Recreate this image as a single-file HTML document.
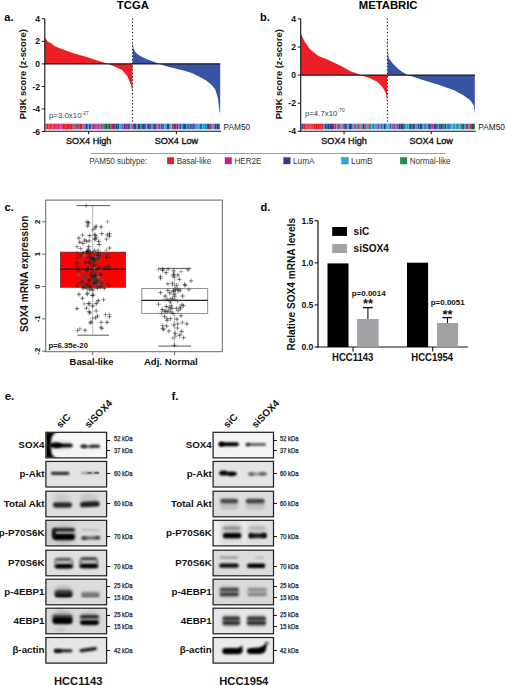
<!DOCTYPE html><html><head><meta charset="utf-8"><style>html,body{margin:0;padding:0;background:#fff;width:507px;height:685px;overflow:hidden}svg{display:block}</style></head><body><svg width="507" height="685" viewBox="0 0 507 685" font-family="Liberation Sans, sans-serif">
<rect width="507" height="685" fill="#fff"/>
<defs>
<filter id="sb" x="-5%" y="-20%" width="110%" height="140%"><feGaussianBlur stdDeviation="0.35 0"/></filter>
<filter id="b1" x="-30%" y="-100%" width="160%" height="300%"><feGaussianBlur stdDeviation="0.9"/></filter>
<filter id="b2" x="-30%" y="-100%" width="160%" height="300%"><feGaussianBlur stdDeviation="1.4"/></filter>
<filter id="b3" x="-50%" y="-200%" width="200%" height="500%"><feGaussianBlur stdDeviation="2.2"/></filter>
</defs>
<path d="M44.90,63.90 L44.90,37.10 L45.50,38.50 L47.60,41.50 L51.10,43.30 L54.70,46.30 L61.80,49.00 L70.60,52.20 L79.50,54.90 L88.40,57.50 L97.30,60.50 L107.00,63.40 L115.00,66.70 L122.10,70.00 L127.40,76.20 L131.00,85.00 L132.40,92.10 L132.40,63.90 Z" fill="#ed1f26"/>
<path d="M132.70,63.90 L132.70,42.30 L133.60,48.60 L135.40,52.20 L139.00,55.30 L144.50,58.20 L151.80,61.00 L159.00,63.70 L166.30,66.20 L175.40,68.60 L184.40,70.70 L191.70,73.10 L199.00,76.40 L206.20,80.40 L211.70,84.90 L215.30,89.40 L218.00,98.50 L219.50,112.10 L220.20,113.00 L220.20,63.90 Z" fill="#3753a3"/>
<line x1="44.80" y1="63.90" x2="220.30" y2="63.90" stroke="#1a1a1a" stroke-width="1.2" />
<clipPath id="sc11"><rect x="45.40" y="123.40" width="174.90" height="6.20"/></clipPath>
<g clip-path="url(#sc11)"><g filter="url(#sb)">
<rect x="43.40" y="123.40" width="2.20" height="6.20" fill="#e41e26" />
<rect x="45.40" y="123.40" width="1.15" height="6.20" fill="#e41e26" />
<rect x="46.50" y="123.40" width="2.05" height="6.20" fill="#e41e26" />
<rect x="48.50" y="123.40" width="1.15" height="6.20" fill="#e41e26" />
<rect x="49.60" y="123.40" width="2.05" height="6.20" fill="#e41e26" />
<rect x="51.60" y="123.40" width="0.95" height="6.20" fill="#e41e26" />
<rect x="52.50" y="123.40" width="1.15" height="6.20" fill="#d4168a" />
<rect x="53.60" y="123.40" width="2.05" height="6.20" fill="#e41e26" />
<rect x="55.60" y="123.40" width="1.15" height="6.20" fill="#e41e26" />
<rect x="56.70" y="123.40" width="0.75" height="6.20" fill="#e41e26" />
<rect x="57.40" y="123.40" width="1.65" height="6.20" fill="#d4168a" />
<rect x="59.00" y="123.40" width="1.35" height="6.20" fill="#27aae1" />
<rect x="60.30" y="123.40" width="1.15" height="6.20" fill="#d4168a" />
<rect x="61.40" y="123.40" width="1.35" height="6.20" fill="#d4168a" />
<rect x="62.70" y="123.40" width="1.35" height="6.20" fill="#e41e26" />
<rect x="64.00" y="123.40" width="1.35" height="6.20" fill="#e41e26" />
<rect x="65.30" y="123.40" width="0.75" height="6.20" fill="#e41e26" />
<rect x="66.00" y="123.40" width="0.95" height="6.20" fill="#e41e26" />
<rect x="66.90" y="123.40" width="2.05" height="6.20" fill="#e41e26" />
<rect x="68.90" y="123.40" width="1.15" height="6.20" fill="#e41e26" />
<rect x="70.00" y="123.40" width="0.95" height="6.20" fill="#e41e26" />
<rect x="70.90" y="123.40" width="1.65" height="6.20" fill="#e41e26" />
<rect x="72.50" y="123.40" width="0.75" height="6.20" fill="#d4168a" />
<rect x="73.20" y="123.40" width="1.15" height="6.20" fill="#d4168a" />
<rect x="74.30" y="123.40" width="1.15" height="6.20" fill="#0e9a4a" />
<rect x="75.40" y="123.40" width="2.05" height="6.20" fill="#e41e26" />
<rect x="77.40" y="123.40" width="1.05" height="6.20" fill="#2e3a92" />
<rect x="78.40" y="123.40" width="0.95" height="6.20" fill="#2e3a92" />
<rect x="79.30" y="123.40" width="0.75" height="6.20" fill="#e41e26" />
<rect x="80.00" y="123.40" width="2.05" height="6.20" fill="#e41e26" />
<rect x="82.00" y="123.40" width="0.75" height="6.20" fill="#27aae1" />
<rect x="82.70" y="123.40" width="1.15" height="6.20" fill="#e41e26" />
<rect x="83.80" y="123.40" width="0.75" height="6.20" fill="#27aae1" />
<rect x="84.50" y="123.40" width="0.75" height="6.20" fill="#d4168a" />
<rect x="85.20" y="123.40" width="0.75" height="6.20" fill="#2e3a92" />
<rect x="85.90" y="123.40" width="1.65" height="6.20" fill="#2e3a92" />
<rect x="87.50" y="123.40" width="0.75" height="6.20" fill="#2e3a92" />
<rect x="88.20" y="123.40" width="0.95" height="6.20" fill="#27aae1" />
<rect x="89.10" y="123.40" width="1.05" height="6.20" fill="#2e3a92" />
<rect x="90.10" y="123.40" width="1.05" height="6.20" fill="#2e3a92" />
<rect x="91.10" y="123.40" width="1.15" height="6.20" fill="#27aae1" />
<rect x="92.20" y="123.40" width="0.75" height="6.20" fill="#d4168a" />
<rect x="92.90" y="123.40" width="1.65" height="6.20" fill="#e41e26" />
<rect x="94.50" y="123.40" width="0.75" height="6.20" fill="#2e3a92" />
<rect x="95.20" y="123.40" width="1.15" height="6.20" fill="#d4168a" />
<rect x="96.30" y="123.40" width="1.35" height="6.20" fill="#d4168a" />
<rect x="97.60" y="123.40" width="1.35" height="6.20" fill="#d4168a" />
<rect x="98.90" y="123.40" width="1.65" height="6.20" fill="#27aae1" />
<rect x="100.50" y="123.40" width="1.15" height="6.20" fill="#2e3a92" />
<rect x="101.60" y="123.40" width="0.75" height="6.20" fill="#2e3a92" />
<rect x="102.30" y="123.40" width="0.95" height="6.20" fill="#e41e26" />
<rect x="103.20" y="123.40" width="2.05" height="6.20" fill="#0e9a4a" />
<rect x="105.20" y="123.40" width="2.05" height="6.20" fill="#2e3a92" />
<rect x="107.20" y="123.40" width="0.75" height="6.20" fill="#d4168a" />
<rect x="107.90" y="123.40" width="1.15" height="6.20" fill="#0e9a4a" />
<rect x="109.00" y="123.40" width="1.35" height="6.20" fill="#2e3a92" />
<rect x="110.30" y="123.40" width="0.75" height="6.20" fill="#e41e26" />
<rect x="111.00" y="123.40" width="0.95" height="6.20" fill="#d4168a" />
<rect x="111.90" y="123.40" width="1.05" height="6.20" fill="#e41e26" />
<rect x="112.90" y="123.40" width="1.35" height="6.20" fill="#2e3a92" />
<rect x="114.20" y="123.40" width="1.05" height="6.20" fill="#2e3a92" />
<rect x="115.20" y="123.40" width="0.75" height="6.20" fill="#e41e26" />
<rect x="115.90" y="123.40" width="1.35" height="6.20" fill="#2e3a92" />
<rect x="117.20" y="123.40" width="0.75" height="6.20" fill="#2e3a92" />
<rect x="117.90" y="123.40" width="1.05" height="6.20" fill="#2e3a92" />
<rect x="118.90" y="123.40" width="0.95" height="6.20" fill="#27aae1" />
<rect x="119.80" y="123.40" width="1.15" height="6.20" fill="#27aae1" />
<rect x="120.90" y="123.40" width="0.95" height="6.20" fill="#27aae1" />
<rect x="121.80" y="123.40" width="0.95" height="6.20" fill="#2e3a92" />
<rect x="122.70" y="123.40" width="1.05" height="6.20" fill="#27aae1" />
<rect x="123.70" y="123.40" width="2.05" height="6.20" fill="#2e3a92" />
<rect x="125.70" y="123.40" width="1.65" height="6.20" fill="#d4168a" />
<rect x="127.30" y="123.40" width="1.65" height="6.20" fill="#2e3a92" />
<rect x="128.90" y="123.40" width="1.35" height="6.20" fill="#d4168a" />
<rect x="130.20" y="123.40" width="1.15" height="6.20" fill="#27aae1" />
<rect x="131.30" y="123.40" width="1.35" height="6.20" fill="#e41e26" />
<rect x="132.60" y="123.40" width="0.75" height="6.20" fill="#e41e26" />
<rect x="133.30" y="123.40" width="0.75" height="6.20" fill="#2e3a92" />
<rect x="134.00" y="123.40" width="1.05" height="6.20" fill="#2e3a92" />
<rect x="135.00" y="123.40" width="1.65" height="6.20" fill="#2e3a92" />
<rect x="136.60" y="123.40" width="1.15" height="6.20" fill="#27aae1" />
<rect x="137.70" y="123.40" width="1.35" height="6.20" fill="#2e3a92" />
<rect x="139.00" y="123.40" width="1.35" height="6.20" fill="#2e3a92" />
<rect x="140.30" y="123.40" width="1.65" height="6.20" fill="#0e9a4a" />
<rect x="141.90" y="123.40" width="0.95" height="6.20" fill="#2e3a92" />
<rect x="142.80" y="123.40" width="1.35" height="6.20" fill="#2e3a92" />
<rect x="144.10" y="123.40" width="1.35" height="6.20" fill="#2e3a92" />
<rect x="145.40" y="123.40" width="1.05" height="6.20" fill="#2e3a92" />
<rect x="146.40" y="123.40" width="0.95" height="6.20" fill="#27aae1" />
<rect x="147.30" y="123.40" width="0.75" height="6.20" fill="#2e3a92" />
<rect x="148.00" y="123.40" width="1.15" height="6.20" fill="#2e3a92" />
<rect x="149.10" y="123.40" width="0.75" height="6.20" fill="#2e3a92" />
<rect x="149.80" y="123.40" width="1.05" height="6.20" fill="#2e3a92" />
<rect x="150.80" y="123.40" width="0.95" height="6.20" fill="#d4168a" />
<rect x="151.70" y="123.40" width="0.95" height="6.20" fill="#27aae1" />
<rect x="152.60" y="123.40" width="1.05" height="6.20" fill="#2e3a92" />
<rect x="153.60" y="123.40" width="1.65" height="6.20" fill="#2e3a92" />
<rect x="155.20" y="123.40" width="0.95" height="6.20" fill="#2e3a92" />
<rect x="156.10" y="123.40" width="0.75" height="6.20" fill="#2e3a92" />
<rect x="156.80" y="123.40" width="1.05" height="6.20" fill="#27aae1" />
<rect x="157.80" y="123.40" width="0.75" height="6.20" fill="#e41e26" />
<rect x="158.50" y="123.40" width="1.65" height="6.20" fill="#d4168a" />
<rect x="160.10" y="123.40" width="0.75" height="6.20" fill="#27aae1" />
<rect x="160.80" y="123.40" width="1.05" height="6.20" fill="#2e3a92" />
<rect x="161.80" y="123.40" width="0.75" height="6.20" fill="#d4168a" />
<rect x="162.50" y="123.40" width="1.35" height="6.20" fill="#2e3a92" />
<rect x="163.80" y="123.40" width="0.75" height="6.20" fill="#27aae1" />
<rect x="164.50" y="123.40" width="1.65" height="6.20" fill="#27aae1" />
<rect x="166.10" y="123.40" width="0.95" height="6.20" fill="#27aae1" />
<rect x="167.00" y="123.40" width="1.05" height="6.20" fill="#2e3a92" />
<rect x="168.00" y="123.40" width="1.65" height="6.20" fill="#2e3a92" />
<rect x="169.60" y="123.40" width="0.75" height="6.20" fill="#27aae1" />
<rect x="170.30" y="123.40" width="1.15" height="6.20" fill="#27aae1" />
<rect x="171.40" y="123.40" width="0.75" height="6.20" fill="#27aae1" />
<rect x="172.10" y="123.40" width="1.35" height="6.20" fill="#e41e26" />
<rect x="173.40" y="123.40" width="1.65" height="6.20" fill="#2e3a92" />
<rect x="175.00" y="123.40" width="1.35" height="6.20" fill="#e41e26" />
<rect x="176.30" y="123.40" width="0.75" height="6.20" fill="#d4168a" />
<rect x="177.00" y="123.40" width="1.65" height="6.20" fill="#2e3a92" />
<rect x="178.60" y="123.40" width="1.05" height="6.20" fill="#27aae1" />
<rect x="179.60" y="123.40" width="1.65" height="6.20" fill="#2e3a92" />
<rect x="181.20" y="123.40" width="1.65" height="6.20" fill="#27aae1" />
<rect x="182.80" y="123.40" width="1.15" height="6.20" fill="#2e3a92" />
<rect x="183.90" y="123.40" width="2.05" height="6.20" fill="#2e3a92" />
<rect x="185.90" y="123.40" width="1.35" height="6.20" fill="#27aae1" />
<rect x="187.20" y="123.40" width="0.75" height="6.20" fill="#2e3a92" />
<rect x="187.90" y="123.40" width="0.75" height="6.20" fill="#2e3a92" />
<rect x="188.60" y="123.40" width="0.95" height="6.20" fill="#0e9a4a" />
<rect x="189.50" y="123.40" width="0.75" height="6.20" fill="#2e3a92" />
<rect x="190.20" y="123.40" width="1.35" height="6.20" fill="#2e3a92" />
<rect x="191.50" y="123.40" width="1.15" height="6.20" fill="#2e3a92" />
<rect x="192.60" y="123.40" width="0.75" height="6.20" fill="#2e3a92" />
<rect x="193.30" y="123.40" width="0.95" height="6.20" fill="#2e3a92" />
<rect x="194.20" y="123.40" width="0.95" height="6.20" fill="#2e3a92" />
<rect x="195.10" y="123.40" width="2.05" height="6.20" fill="#27aae1" />
<rect x="197.10" y="123.40" width="1.65" height="6.20" fill="#27aae1" />
<rect x="198.70" y="123.40" width="1.15" height="6.20" fill="#27aae1" />
<rect x="199.80" y="123.40" width="1.05" height="6.20" fill="#2e3a92" />
<rect x="200.80" y="123.40" width="1.05" height="6.20" fill="#2e3a92" />
<rect x="201.80" y="123.40" width="1.15" height="6.20" fill="#27aae1" />
<rect x="202.90" y="123.40" width="2.05" height="6.20" fill="#27aae1" />
<rect x="204.90" y="123.40" width="0.95" height="6.20" fill="#2e3a92" />
<rect x="205.80" y="123.40" width="1.35" height="6.20" fill="#27aae1" />
<rect x="207.10" y="123.40" width="0.95" height="6.20" fill="#2e3a92" />
<rect x="208.00" y="123.40" width="1.15" height="6.20" fill="#2e3a92" />
<rect x="209.10" y="123.40" width="2.05" height="6.20" fill="#e41e26" />
<rect x="211.10" y="123.40" width="0.75" height="6.20" fill="#0e9a4a" />
<rect x="211.80" y="123.40" width="1.05" height="6.20" fill="#27aae1" />
<rect x="212.80" y="123.40" width="0.75" height="6.20" fill="#2e3a92" />
<rect x="213.50" y="123.40" width="1.05" height="6.20" fill="#27aae1" />
<rect x="214.50" y="123.40" width="2.05" height="6.20" fill="#2e3a92" />
<rect x="216.50" y="123.40" width="1.65" height="6.20" fill="#2e3a92" />
<rect x="218.10" y="123.40" width="1.65" height="6.20" fill="#2e3a92" />
<rect x="219.70" y="123.40" width="0.65" height="6.20" fill="#27aae1" />
<rect x="220.20" y="123.40" width="2.00" height="6.20" fill="#e9a0a8" />
</g></g>
<line x1="132.50" y1="18.30" x2="132.50" y2="121.80" stroke="#1a1a1a" stroke-width="1.05" stroke-dasharray="1.3,2.1"/>
<line x1="44.80" y1="18.80" x2="44.80" y2="131.60" stroke="#111" stroke-width="1.1" />
<line x1="44.30" y1="131.20" x2="221.10" y2="131.20" stroke="#111" stroke-width="1.1" />
<line x1="41.80" y1="18.78" x2="44.80" y2="18.78" stroke="#111" stroke-width="1" />
<text x="40.10" y="21.88" font-size="8.6" font-weight="bold" text-anchor="end" fill="#111" >4</text>
<line x1="41.80" y1="41.34" x2="44.80" y2="41.34" stroke="#111" stroke-width="1" />
<text x="40.10" y="44.44" font-size="8.6" font-weight="bold" text-anchor="end" fill="#111" >2</text>
<line x1="41.80" y1="63.90" x2="44.80" y2="63.90" stroke="#111" stroke-width="1" />
<text x="40.10" y="67.00" font-size="8.6" font-weight="bold" text-anchor="end" fill="#111" >0</text>
<line x1="41.80" y1="86.46" x2="44.80" y2="86.46" stroke="#111" stroke-width="1" />
<text x="40.10" y="89.56" font-size="8.6" font-weight="bold" text-anchor="end" fill="#111" >-2</text>
<line x1="41.80" y1="109.02" x2="44.80" y2="109.02" stroke="#111" stroke-width="1" />
<text x="40.10" y="112.12" font-size="8.6" font-weight="bold" text-anchor="end" fill="#111" >-4</text>
<line x1="41.80" y1="131.58" x2="44.80" y2="131.58" stroke="#111" stroke-width="1" />
<text x="40.10" y="134.68" font-size="8.6" font-weight="bold" text-anchor="end" fill="#111" >-6</text>
<line x1="88.65" y1="131.20" x2="88.65" y2="134.20" stroke="#111" stroke-width="1" />
<line x1="176.40" y1="131.20" x2="176.40" y2="134.20" stroke="#111" stroke-width="1" />
<text x="88.65" y="143.70" font-size="9.1"  text-anchor="middle" fill="#111" stroke="#111" stroke-width="0.35">SOX4 High</text>
<text x="176.40" y="143.70" font-size="9.1"  text-anchor="middle" fill="#111" stroke="#111" stroke-width="0.35">SOX4 Low</text>
<text x="223.60" y="130.00" font-size="8.3"  text-anchor="start" fill="#222" >PAM50</text>
<text x="49.00" y="118.40" font-size="7.85" fill="#3a3a3a">p=3.0x10<tspan font-size="4.8" dy="-3.9" dx="0.3">-27</tspan></text>
<text x="132.85" y="9.40" font-size="11.3" font-weight="bold" text-anchor="middle" fill="#000" >TCGA</text>
<text x="4.30" y="21.40" font-size="11" font-weight="bold" text-anchor="start" fill="#000" >a.</text>
<text transform="translate(26.20,74.30) rotate(-90)" font-size="9.4" font-weight="bold" text-anchor="middle" fill="#111">PI3K score (z-score)</text>
<path d="M300.80,75.10 L300.80,33.00 L304.30,41.00 L309.70,49.00 L318.50,56.10 L327.40,59.60 L341.60,66.20 L350.50,71.20 L360.20,74.70 L370.00,78.30 L377.10,81.80 L382.40,87.10 L386.00,93.30 L387.20,103.10 L387.20,75.10 Z" fill="#ed1f26"/>
<path d="M387.50,75.10 L387.50,35.90 L387.90,52.20 L389.00,58.60 L392.30,63.10 L397.70,68.50 L403.10,72.50 L407.70,74.90 L421.30,79.40 L439.40,84.90 L454.00,90.30 L463.00,94.90 L470.30,100.30 L473.90,105.70 L474.80,113.90 L474.80,75.10 Z" fill="#3753a3"/>
<line x1="300.70" y1="75.10" x2="475.00" y2="75.10" stroke="#1a1a1a" stroke-width="1.2" />
<clipPath id="sc23"><rect x="301.30" y="123.40" width="173.70" height="6.20"/></clipPath>
<g clip-path="url(#sc23)"><g filter="url(#sb)">
<rect x="299.30" y="123.40" width="2.20" height="6.20" fill="#e41e26" />
<rect x="301.30" y="123.40" width="2.05" height="6.20" fill="#2e3a92" />
<rect x="303.30" y="123.40" width="2.05" height="6.20" fill="#e41e26" />
<rect x="305.30" y="123.40" width="1.35" height="6.20" fill="#e41e26" />
<rect x="306.60" y="123.40" width="1.15" height="6.20" fill="#e41e26" />
<rect x="307.70" y="123.40" width="0.95" height="6.20" fill="#e41e26" />
<rect x="308.60" y="123.40" width="1.05" height="6.20" fill="#e41e26" />
<rect x="309.60" y="123.40" width="0.95" height="6.20" fill="#e41e26" />
<rect x="310.50" y="123.40" width="0.75" height="6.20" fill="#e41e26" />
<rect x="311.20" y="123.40" width="1.65" height="6.20" fill="#e41e26" />
<rect x="312.80" y="123.40" width="0.75" height="6.20" fill="#e41e26" />
<rect x="313.50" y="123.40" width="1.65" height="6.20" fill="#e41e26" />
<rect x="315.10" y="123.40" width="2.05" height="6.20" fill="#e41e26" />
<rect x="317.10" y="123.40" width="2.05" height="6.20" fill="#e41e26" />
<rect x="319.10" y="123.40" width="1.05" height="6.20" fill="#e41e26" />
<rect x="320.10" y="123.40" width="1.35" height="6.20" fill="#e41e26" />
<rect x="321.40" y="123.40" width="1.65" height="6.20" fill="#e41e26" />
<rect x="323.00" y="123.40" width="2.05" height="6.20" fill="#27aae1" />
<rect x="325.00" y="123.40" width="1.35" height="6.20" fill="#2e3a92" />
<rect x="326.30" y="123.40" width="1.05" height="6.20" fill="#2e3a92" />
<rect x="327.30" y="123.40" width="2.05" height="6.20" fill="#2e3a92" />
<rect x="329.30" y="123.40" width="1.65" height="6.20" fill="#2e3a92" />
<rect x="330.90" y="123.40" width="2.05" height="6.20" fill="#2e3a92" />
<rect x="332.90" y="123.40" width="1.65" height="6.20" fill="#d4168a" />
<rect x="334.50" y="123.40" width="2.05" height="6.20" fill="#d4168a" />
<rect x="336.50" y="123.40" width="1.05" height="6.20" fill="#27aae1" />
<rect x="337.50" y="123.40" width="1.35" height="6.20" fill="#2e3a92" />
<rect x="338.80" y="123.40" width="0.75" height="6.20" fill="#e41e26" />
<rect x="339.50" y="123.40" width="1.15" height="6.20" fill="#e41e26" />
<rect x="340.60" y="123.40" width="1.05" height="6.20" fill="#0e9a4a" />
<rect x="341.60" y="123.40" width="1.05" height="6.20" fill="#27aae1" />
<rect x="342.60" y="123.40" width="1.05" height="6.20" fill="#d4168a" />
<rect x="343.60" y="123.40" width="1.05" height="6.20" fill="#2e3a92" />
<rect x="344.60" y="123.40" width="2.05" height="6.20" fill="#2e3a92" />
<rect x="346.60" y="123.40" width="0.95" height="6.20" fill="#2e3a92" />
<rect x="347.50" y="123.40" width="0.75" height="6.20" fill="#27aae1" />
<rect x="348.20" y="123.40" width="0.75" height="6.20" fill="#27aae1" />
<rect x="348.90" y="123.40" width="2.05" height="6.20" fill="#2e3a92" />
<rect x="350.90" y="123.40" width="1.05" height="6.20" fill="#2e3a92" />
<rect x="351.90" y="123.40" width="1.65" height="6.20" fill="#27aae1" />
<rect x="353.50" y="123.40" width="1.15" height="6.20" fill="#d4168a" />
<rect x="354.60" y="123.40" width="0.75" height="6.20" fill="#e41e26" />
<rect x="355.30" y="123.40" width="1.15" height="6.20" fill="#2e3a92" />
<rect x="356.40" y="123.40" width="0.95" height="6.20" fill="#27aae1" />
<rect x="357.30" y="123.40" width="1.65" height="6.20" fill="#e41e26" />
<rect x="358.90" y="123.40" width="0.95" height="6.20" fill="#27aae1" />
<rect x="359.80" y="123.40" width="0.75" height="6.20" fill="#2e3a92" />
<rect x="360.50" y="123.40" width="1.15" height="6.20" fill="#27aae1" />
<rect x="361.60" y="123.40" width="1.05" height="6.20" fill="#e41e26" />
<rect x="362.60" y="123.40" width="2.05" height="6.20" fill="#2e3a92" />
<rect x="364.60" y="123.40" width="0.95" height="6.20" fill="#e41e26" />
<rect x="365.50" y="123.40" width="1.05" height="6.20" fill="#2e3a92" />
<rect x="366.50" y="123.40" width="0.95" height="6.20" fill="#27aae1" />
<rect x="367.40" y="123.40" width="1.15" height="6.20" fill="#0e9a4a" />
<rect x="368.50" y="123.40" width="0.95" height="6.20" fill="#e41e26" />
<rect x="369.40" y="123.40" width="1.35" height="6.20" fill="#2e3a92" />
<rect x="370.70" y="123.40" width="0.95" height="6.20" fill="#27aae1" />
<rect x="371.60" y="123.40" width="1.35" height="6.20" fill="#27aae1" />
<rect x="372.90" y="123.40" width="1.05" height="6.20" fill="#d4168a" />
<rect x="373.90" y="123.40" width="0.95" height="6.20" fill="#27aae1" />
<rect x="374.80" y="123.40" width="1.15" height="6.20" fill="#27aae1" />
<rect x="375.90" y="123.40" width="1.65" height="6.20" fill="#27aae1" />
<rect x="377.50" y="123.40" width="2.05" height="6.20" fill="#d4168a" />
<rect x="379.50" y="123.40" width="1.35" height="6.20" fill="#27aae1" />
<rect x="380.80" y="123.40" width="1.15" height="6.20" fill="#e41e26" />
<rect x="381.90" y="123.40" width="2.05" height="6.20" fill="#27aae1" />
<rect x="383.90" y="123.40" width="1.65" height="6.20" fill="#2e3a92" />
<rect x="385.50" y="123.40" width="1.05" height="6.20" fill="#2e3a92" />
<rect x="386.50" y="123.40" width="1.05" height="6.20" fill="#27aae1" />
<rect x="387.50" y="123.40" width="1.35" height="6.20" fill="#27aae1" />
<rect x="388.80" y="123.40" width="0.75" height="6.20" fill="#27aae1" />
<rect x="389.50" y="123.40" width="0.75" height="6.20" fill="#e41e26" />
<rect x="390.20" y="123.40" width="0.95" height="6.20" fill="#2e3a92" />
<rect x="391.10" y="123.40" width="1.35" height="6.20" fill="#27aae1" />
<rect x="392.40" y="123.40" width="1.15" height="6.20" fill="#2e3a92" />
<rect x="393.50" y="123.40" width="1.65" height="6.20" fill="#d4168a" />
<rect x="395.10" y="123.40" width="1.35" height="6.20" fill="#27aae1" />
<rect x="396.40" y="123.40" width="0.75" height="6.20" fill="#2e3a92" />
<rect x="397.10" y="123.40" width="1.35" height="6.20" fill="#0e9a4a" />
<rect x="398.40" y="123.40" width="2.05" height="6.20" fill="#2e3a92" />
<rect x="400.40" y="123.40" width="1.65" height="6.20" fill="#2e3a92" />
<rect x="402.00" y="123.40" width="1.05" height="6.20" fill="#2e3a92" />
<rect x="403.00" y="123.40" width="2.05" height="6.20" fill="#0e9a4a" />
<rect x="405.00" y="123.40" width="1.65" height="6.20" fill="#27aae1" />
<rect x="406.60" y="123.40" width="0.95" height="6.20" fill="#27aae1" />
<rect x="407.50" y="123.40" width="0.75" height="6.20" fill="#2e3a92" />
<rect x="408.20" y="123.40" width="1.15" height="6.20" fill="#27aae1" />
<rect x="409.30" y="123.40" width="0.75" height="6.20" fill="#2e3a92" />
<rect x="410.00" y="123.40" width="1.05" height="6.20" fill="#2e3a92" />
<rect x="411.00" y="123.40" width="1.65" height="6.20" fill="#0e9a4a" />
<rect x="412.60" y="123.40" width="1.65" height="6.20" fill="#2e3a92" />
<rect x="414.20" y="123.40" width="1.35" height="6.20" fill="#2e3a92" />
<rect x="415.50" y="123.40" width="1.05" height="6.20" fill="#27aae1" />
<rect x="416.50" y="123.40" width="0.75" height="6.20" fill="#2e3a92" />
<rect x="417.20" y="123.40" width="0.75" height="6.20" fill="#27aae1" />
<rect x="417.90" y="123.40" width="1.15" height="6.20" fill="#2e3a92" />
<rect x="419.00" y="123.40" width="0.75" height="6.20" fill="#27aae1" />
<rect x="419.70" y="123.40" width="1.35" height="6.20" fill="#2e3a92" />
<rect x="421.00" y="123.40" width="1.65" height="6.20" fill="#2e3a92" />
<rect x="422.60" y="123.40" width="1.05" height="6.20" fill="#27aae1" />
<rect x="423.60" y="123.40" width="1.05" height="6.20" fill="#0e9a4a" />
<rect x="424.60" y="123.40" width="1.05" height="6.20" fill="#2e3a92" />
<rect x="425.60" y="123.40" width="0.75" height="6.20" fill="#2e3a92" />
<rect x="426.30" y="123.40" width="2.05" height="6.20" fill="#27aae1" />
<rect x="428.30" y="123.40" width="2.05" height="6.20" fill="#2e3a92" />
<rect x="430.30" y="123.40" width="1.05" height="6.20" fill="#2e3a92" />
<rect x="431.30" y="123.40" width="1.65" height="6.20" fill="#d4168a" />
<rect x="432.90" y="123.40" width="0.95" height="6.20" fill="#27aae1" />
<rect x="433.80" y="123.40" width="2.05" height="6.20" fill="#2e3a92" />
<rect x="435.80" y="123.40" width="1.05" height="6.20" fill="#2e3a92" />
<rect x="436.80" y="123.40" width="1.15" height="6.20" fill="#0e9a4a" />
<rect x="437.90" y="123.40" width="1.05" height="6.20" fill="#27aae1" />
<rect x="438.90" y="123.40" width="1.15" height="6.20" fill="#e41e26" />
<rect x="440.00" y="123.40" width="0.75" height="6.20" fill="#2e3a92" />
<rect x="440.70" y="123.40" width="2.05" height="6.20" fill="#2e3a92" />
<rect x="442.70" y="123.40" width="2.05" height="6.20" fill="#0e9a4a" />
<rect x="444.70" y="123.40" width="1.65" height="6.20" fill="#2e3a92" />
<rect x="446.30" y="123.40" width="1.15" height="6.20" fill="#27aae1" />
<rect x="447.40" y="123.40" width="1.05" height="6.20" fill="#2e3a92" />
<rect x="448.40" y="123.40" width="1.35" height="6.20" fill="#2e3a92" />
<rect x="449.70" y="123.40" width="2.05" height="6.20" fill="#27aae1" />
<rect x="451.70" y="123.40" width="0.95" height="6.20" fill="#27aae1" />
<rect x="452.60" y="123.40" width="1.15" height="6.20" fill="#27aae1" />
<rect x="453.70" y="123.40" width="1.05" height="6.20" fill="#2e3a92" />
<rect x="454.70" y="123.40" width="0.75" height="6.20" fill="#27aae1" />
<rect x="455.40" y="123.40" width="1.65" height="6.20" fill="#27aae1" />
<rect x="457.00" y="123.40" width="0.95" height="6.20" fill="#e41e26" />
<rect x="457.90" y="123.40" width="0.75" height="6.20" fill="#27aae1" />
<rect x="458.60" y="123.40" width="0.95" height="6.20" fill="#0e9a4a" />
<rect x="459.50" y="123.40" width="0.95" height="6.20" fill="#27aae1" />
<rect x="460.40" y="123.40" width="0.95" height="6.20" fill="#0e9a4a" />
<rect x="461.30" y="123.40" width="1.05" height="6.20" fill="#2e3a92" />
<rect x="462.30" y="123.40" width="1.65" height="6.20" fill="#2e3a92" />
<rect x="463.90" y="123.40" width="2.05" height="6.20" fill="#27aae1" />
<rect x="465.90" y="123.40" width="2.05" height="6.20" fill="#e41e26" />
<rect x="467.90" y="123.40" width="2.05" height="6.20" fill="#27aae1" />
<rect x="469.90" y="123.40" width="1.05" height="6.20" fill="#e41e26" />
<rect x="470.90" y="123.40" width="1.05" height="6.20" fill="#d4168a" />
<rect x="471.90" y="123.40" width="2.05" height="6.20" fill="#2e3a92" />
<rect x="473.90" y="123.40" width="1.15" height="6.20" fill="#0e9a4a" />
<rect x="474.90" y="123.40" width="2.00" height="6.20" fill="#e9a0a8" />
</g></g>
<line x1="387.40" y1="18.30" x2="387.40" y2="121.80" stroke="#1a1a1a" stroke-width="1.05" stroke-dasharray="1.3,2.1"/>
<line x1="300.70" y1="18.80" x2="300.70" y2="131.60" stroke="#111" stroke-width="1.1" />
<line x1="300.20" y1="131.20" x2="475.80" y2="131.20" stroke="#111" stroke-width="1.1" />
<line x1="297.70" y1="18.90" x2="300.70" y2="18.90" stroke="#111" stroke-width="1" />
<text x="296.00" y="22.00" font-size="8.6" font-weight="bold" text-anchor="end" fill="#111" >4</text>
<line x1="297.70" y1="47.00" x2="300.70" y2="47.00" stroke="#111" stroke-width="1" />
<text x="296.00" y="50.10" font-size="8.6" font-weight="bold" text-anchor="end" fill="#111" >2</text>
<line x1="297.70" y1="75.10" x2="300.70" y2="75.10" stroke="#111" stroke-width="1" />
<text x="296.00" y="78.20" font-size="8.6" font-weight="bold" text-anchor="end" fill="#111" >0</text>
<line x1="297.70" y1="103.20" x2="300.70" y2="103.20" stroke="#111" stroke-width="1" />
<text x="296.00" y="106.30" font-size="8.6" font-weight="bold" text-anchor="end" fill="#111" >-2</text>
<line x1="297.70" y1="131.30" x2="300.70" y2="131.30" stroke="#111" stroke-width="1" />
<text x="296.00" y="134.40" font-size="8.6" font-weight="bold" text-anchor="end" fill="#111" >-4</text>
<line x1="344.05" y1="131.20" x2="344.05" y2="134.20" stroke="#111" stroke-width="1" />
<line x1="431.20" y1="131.20" x2="431.20" y2="134.20" stroke="#111" stroke-width="1" />
<text x="344.05" y="143.70" font-size="9.1"  text-anchor="middle" fill="#111" stroke="#111" stroke-width="0.35">SOX4 High</text>
<text x="431.20" y="143.70" font-size="9.1"  text-anchor="middle" fill="#111" stroke="#111" stroke-width="0.35">SOX4 Low</text>
<text x="478.30" y="130.00" font-size="8.3"  text-anchor="start" fill="#222" >PAM50</text>
<text x="304.90" y="116.30" font-size="7.85" fill="#3a3a3a">p=4.7x10<tspan font-size="4.8" dy="-3.9" dx="0.3">-70</tspan></text>
<text x="388.15" y="9.40" font-size="11.3" font-weight="bold" text-anchor="middle" fill="#000" >METABRIC</text>
<text x="260.00" y="21.40" font-size="11" font-weight="bold" text-anchor="start" fill="#000" >b.</text>
<text transform="translate(282.20,74.30) rotate(-90)" font-size="9.4" font-weight="bold" text-anchor="middle" fill="#111">PI3K score (z-score)</text>
<line x1="91.00" y1="153.50" x2="445.40" y2="153.50" stroke="#9a9a9a" stroke-width="1" />
<text x="89.20" y="163.70" font-size="8.5"  text-anchor="start" fill="#333" textLength="58" lengthAdjust="spacingAndGlyphs">PAM50 subtype:</text>
<rect x="167.30" y="157.50" width="6.60" height="6.50" fill="#e41e26" stroke="#555" stroke-width="0.4"/>
<text x="176.70" y="163.70" font-size="8.5"  text-anchor="start" fill="#333" textLength="34.6" lengthAdjust="spacingAndGlyphs">Basal-like</text>
<rect x="225.00" y="157.50" width="6.60" height="6.50" fill="#d4168a" stroke="#555" stroke-width="0.4"/>
<text x="234.40" y="163.70" font-size="8.5"  text-anchor="start" fill="#333" textLength="27" lengthAdjust="spacingAndGlyphs">HER2E</text>
<rect x="283.60" y="157.50" width="6.60" height="6.50" fill="#2e3a92" stroke="#555" stroke-width="0.4"/>
<text x="293.00" y="163.70" font-size="8.5"  text-anchor="start" fill="#333" textLength="21.5" lengthAdjust="spacingAndGlyphs">LumA</text>
<rect x="341.70" y="157.50" width="6.60" height="6.50" fill="#27aae1" stroke="#555" stroke-width="0.4"/>
<text x="351.10" y="163.70" font-size="8.5"  text-anchor="start" fill="#333" textLength="21.5" lengthAdjust="spacingAndGlyphs">LumB</text>
<rect x="400.30" y="157.50" width="6.60" height="6.50" fill="#0e9a4a" stroke="#555" stroke-width="0.4"/>
<text x="409.70" y="163.70" font-size="8.5"  text-anchor="start" fill="#333" textLength="40.8" lengthAdjust="spacingAndGlyphs">Normal-like</text>
<text x="4.60" y="210.50" font-size="11" font-weight="bold" text-anchor="start" fill="#000" >c.</text>
<rect x="45.7" y="200.1" width="176.6" height="151.6" fill="none" stroke="#666" stroke-width="1"/>
<line x1="42.00" y1="221.80" x2="45.70" y2="221.80" stroke="#555" stroke-width="0.9" />
<text transform="translate(40.20,221.80) rotate(-90)" font-size="7.8" font-weight="bold" text-anchor="middle" fill="#111">2</text>
<line x1="42.00" y1="254.15" x2="45.70" y2="254.15" stroke="#555" stroke-width="0.9" />
<text transform="translate(40.20,254.15) rotate(-90)" font-size="7.8" font-weight="bold" text-anchor="middle" fill="#111">1</text>
<line x1="42.00" y1="286.50" x2="45.70" y2="286.50" stroke="#555" stroke-width="0.9" />
<text transform="translate(40.20,286.50) rotate(-90)" font-size="7.8" font-weight="bold" text-anchor="middle" fill="#111">0</text>
<line x1="42.00" y1="318.85" x2="45.70" y2="318.85" stroke="#555" stroke-width="0.9" />
<text transform="translate(40.20,318.85) rotate(-90)" font-size="7.8" font-weight="bold" text-anchor="middle" fill="#111">-1</text>
<line x1="42.00" y1="351.20" x2="45.70" y2="351.20" stroke="#555" stroke-width="0.9" />
<text transform="translate(40.20,351.20) rotate(-90)" font-size="7.8" font-weight="bold" text-anchor="middle" fill="#111">-2</text>
<line x1="92.70" y1="351.70" x2="92.70" y2="355.20" stroke="#555" stroke-width="0.9" />
<line x1="174.60" y1="351.70" x2="174.60" y2="355.20" stroke="#555" stroke-width="0.9" />
<text transform="translate(27.6,273.8) rotate(-90)" font-size="10.1" font-weight="bold" text-anchor="middle" fill="#111">SOX4 mRNA expression</text>
<text x="91.50" y="365.20" font-size="9.4" font-weight="bold" text-anchor="middle" fill="#111" >Basal-like</text>
<text x="170.80" y="365.20" font-size="9.6" font-weight="bold" text-anchor="middle" fill="#111" >Adj. Normal</text>
<text x="48.40" y="347.60" font-size="7.7" font-weight="bold" text-anchor="start" fill="#111" >p=6.35e-20</text>
<rect x="60.30" y="252.10" width="65.40" height="35.20" fill="#ff0000" stroke="#333" stroke-width="0.6"/>
<line x1="60.30" y1="269.30" x2="125.70" y2="269.30" stroke="#111" stroke-width="1.4" />
<line x1="92.70" y1="205.60" x2="92.70" y2="252.10" stroke="#333" stroke-width="0.7" stroke-dasharray="1,1"/>
<line x1="92.70" y1="287.30" x2="92.70" y2="335.20" stroke="#333" stroke-width="0.7" stroke-dasharray="1,1"/>
<line x1="76.40" y1="205.60" x2="110.30" y2="205.60" stroke="#444" stroke-width="0.9" />
<line x1="77.50" y1="335.20" x2="109.00" y2="335.20" stroke="#444" stroke-width="0.9" />
<rect x="141.80" y="288.60" width="65.90" height="24.80" fill="#fff" stroke="#808080" stroke-width="0.9"/>
<line x1="141.80" y1="300.40" x2="207.70" y2="300.40" stroke="#222" stroke-width="1.3" />
<line x1="174.60" y1="268.40" x2="174.60" y2="288.60" stroke="#333" stroke-width="0.7" stroke-dasharray="1,1"/>
<line x1="174.60" y1="313.40" x2="174.60" y2="346.10" stroke="#333" stroke-width="0.7" stroke-dasharray="1,1"/>
<line x1="158.00" y1="268.40" x2="191.10" y2="268.40" stroke="#444" stroke-width="0.9" />
<line x1="158.30" y1="346.10" x2="191.00" y2="346.10" stroke="#444" stroke-width="0.9" />
<path d="M95.86,256.23h4.40M98.06,254.03v4.40" stroke="#444" stroke-width="0.6" fill="none"/>
<path d="M74.80,253.19h4.40M77.00,250.99v4.40" stroke="#444" stroke-width="0.6" fill="none"/>
<path d="M101.35,299.73h4.40M103.55,297.53v4.40" stroke="#444" stroke-width="0.6" fill="none"/>
<path d="M86.47,250.68h4.40M88.67,248.48v4.40" stroke="#111" stroke-width="0.6" fill="none"/>
<path d="M80.44,282.11h4.40M82.64,279.91v4.40" stroke="#222" stroke-width="0.6" fill="none"/>
<path d="M87.66,290.11h4.40M89.86,287.91v4.40" stroke="#333" stroke-width="0.6" fill="none"/>
<path d="M90.97,270.20h4.40M93.17,268.00v4.40" stroke="#222" stroke-width="0.6" fill="none"/>
<path d="M85.81,250.25h4.40M88.01,248.05v4.40" stroke="#333" stroke-width="0.6" fill="none"/>
<path d="M106.70,266.58h4.40M108.90,264.38v4.40" stroke="#222" stroke-width="0.6" fill="none"/>
<path d="M90.68,290.07h4.40M92.88,287.87v4.40" stroke="#444" stroke-width="0.6" fill="none"/>
<path d="M85.51,226.05h4.40M87.71,223.85v4.40" stroke="#1a1a1a" stroke-width="0.6" fill="none"/>
<path d="M107.30,257.31h4.40M109.50,255.11v4.40" stroke="#333" stroke-width="0.6" fill="none"/>
<path d="M82.90,330.26h4.40M85.10,328.06v4.40" stroke="#222" stroke-width="0.6" fill="none"/>
<path d="M74.80,246.71h4.40M77.00,244.51v4.40" stroke="#444" stroke-width="0.6" fill="none"/>
<path d="M92.29,283.55h4.40M94.49,281.35v4.40" stroke="#444" stroke-width="0.6" fill="none"/>
<path d="M92.83,275.77h4.40M95.03,273.57v4.40" stroke="#222" stroke-width="0.6" fill="none"/>
<path d="M86.88,311.56h4.40M89.08,309.36v4.40" stroke="#333" stroke-width="0.6" fill="none"/>
<path d="M96.37,241.32h4.40M98.57,239.12v4.40" stroke="#222" stroke-width="0.6" fill="none"/>
<path d="M89.73,277.94h4.40M91.93,275.74v4.40" stroke="#555" stroke-width="0.6" fill="none"/>
<path d="M87.87,251.78h4.40M90.07,249.58v4.40" stroke="#333" stroke-width="0.6" fill="none"/>
<path d="M104.49,254.49h4.40M106.69,252.29v4.40" stroke="#333" stroke-width="0.6" fill="none"/>
<path d="M92.10,276.21h4.40M94.30,274.01v4.40" stroke="#111" stroke-width="0.6" fill="none"/>
<path d="M98.88,286.77h4.40M101.08,284.57v4.40" stroke="#1a1a1a" stroke-width="0.6" fill="none"/>
<path d="M107.30,316.64h4.40M109.50,314.44v4.40" stroke="#222" stroke-width="0.6" fill="none"/>
<path d="M86.31,222.90h4.40M88.51,220.70v4.40" stroke="#555" stroke-width="0.6" fill="none"/>
<path d="M96.71,255.66h4.40M98.91,253.46v4.40" stroke="#1a1a1a" stroke-width="0.6" fill="none"/>
<path d="M95.14,316.15h4.40M97.34,313.95v4.40" stroke="#1a1a1a" stroke-width="0.6" fill="none"/>
<path d="M75.34,330.64h4.40M77.54,328.44v4.40" stroke="#444" stroke-width="0.6" fill="none"/>
<path d="M76.77,294.28h4.40M78.97,292.08v4.40" stroke="#111" stroke-width="0.6" fill="none"/>
<path d="M79.02,270.06h4.40M81.22,267.86v4.40" stroke="#444" stroke-width="0.6" fill="none"/>
<path d="M88.46,263.45h4.40M90.66,261.25v4.40" stroke="#222" stroke-width="0.6" fill="none"/>
<path d="M95.07,288.40h4.40M97.27,286.20v4.40" stroke="#222" stroke-width="0.6" fill="none"/>
<path d="M91.83,251.94h4.40M94.03,249.74v4.40" stroke="#111" stroke-width="0.6" fill="none"/>
<path d="M92.64,239.53h4.40M94.84,237.33v4.40" stroke="#555" stroke-width="0.6" fill="none"/>
<path d="M78.07,282.28h4.40M80.27,280.08v4.40" stroke="#333" stroke-width="0.6" fill="none"/>
<path d="M82.17,279.00h4.40M84.37,276.80v4.40" stroke="#555" stroke-width="0.6" fill="none"/>
<path d="M99.64,328.31h4.40M101.84,326.11v4.40" stroke="#222" stroke-width="0.6" fill="none"/>
<path d="M92.41,250.39h4.40M94.61,248.19v4.40" stroke="#555" stroke-width="0.6" fill="none"/>
<path d="M80.88,252.73h4.40M83.08,250.53v4.40" stroke="#222" stroke-width="0.6" fill="none"/>
<path d="M80.20,298.27h4.40M82.40,296.07v4.40" stroke="#1a1a1a" stroke-width="0.6" fill="none"/>
<path d="M88.06,322.92h4.40M90.26,320.72v4.40" stroke="#333" stroke-width="0.6" fill="none"/>
<path d="M98.94,226.94h4.40M101.14,224.74v4.40" stroke="#111" stroke-width="0.6" fill="none"/>
<path d="M77.60,242.20h4.40M79.80,240.00v4.40" stroke="#111" stroke-width="0.6" fill="none"/>
<path d="M91.46,281.32h4.40M93.66,279.12v4.40" stroke="#222" stroke-width="0.6" fill="none"/>
<path d="M74.80,283.89h4.40M77.00,281.69v4.40" stroke="#444" stroke-width="0.6" fill="none"/>
<path d="M107.17,236.15h4.40M109.37,233.95v4.40" stroke="#1a1a1a" stroke-width="0.6" fill="none"/>
<path d="M95.90,280.48h4.40M98.10,278.28v4.40" stroke="#333" stroke-width="0.6" fill="none"/>
<path d="M93.89,226.27h4.40M96.09,224.07v4.40" stroke="#222" stroke-width="0.6" fill="none"/>
<path d="M92.42,272.51h4.40M94.62,270.31v4.40" stroke="#333" stroke-width="0.6" fill="none"/>
<path d="M78.33,255.93h4.40M80.53,253.73v4.40" stroke="#333" stroke-width="0.6" fill="none"/>
<path d="M88.72,273.97h4.40M90.92,271.77v4.40" stroke="#222" stroke-width="0.6" fill="none"/>
<path d="M99.55,233.68h4.40M101.75,231.48v4.40" stroke="#222" stroke-width="0.6" fill="none"/>
<path d="M84.28,269.68h4.40M86.48,267.48v4.40" stroke="#333" stroke-width="0.6" fill="none"/>
<path d="M81.98,303.90h4.40M84.18,301.70v4.40" stroke="#777" stroke-width="0.6" fill="none"/>
<path d="M76.16,274.55h4.40M78.36,272.35v4.40" stroke="#777" stroke-width="0.6" fill="none"/>
<path d="M93.90,255.29h4.40M96.10,253.09v4.40" stroke="#1a1a1a" stroke-width="0.6" fill="none"/>
<path d="M89.35,275.04h4.40M91.55,272.84v4.40" stroke="#333" stroke-width="0.6" fill="none"/>
<path d="M75.53,271.50h4.40M77.73,269.30v4.40" stroke="#1a1a1a" stroke-width="0.6" fill="none"/>
<path d="M107.30,233.78h4.40M109.50,231.58v4.40" stroke="#1a1a1a" stroke-width="0.6" fill="none"/>
<path d="M87.51,259.80h4.40M89.71,257.60v4.40" stroke="#444" stroke-width="0.6" fill="none"/>
<path d="M98.92,322.33h4.40M101.12,320.13v4.40" stroke="#333" stroke-width="0.6" fill="none"/>
<path d="M87.01,256.60h4.40M89.21,254.40v4.40" stroke="#333" stroke-width="0.6" fill="none"/>
<path d="M92.50,265.82h4.40M94.70,263.62v4.40" stroke="#333" stroke-width="0.6" fill="none"/>
<path d="M80.14,261.63h4.40M82.34,259.43v4.40" stroke="#555" stroke-width="0.6" fill="none"/>
<path d="M82.17,255.68h4.40M84.37,253.48v4.40" stroke="#777" stroke-width="0.6" fill="none"/>
<path d="M80.82,288.65h4.40M83.02,286.45v4.40" stroke="#555" stroke-width="0.6" fill="none"/>
<path d="M92.85,274.93h4.40M95.05,272.73v4.40" stroke="#222" stroke-width="0.6" fill="none"/>
<path d="M102.45,268.00h4.40M104.65,265.80v4.40" stroke="#222" stroke-width="0.6" fill="none"/>
<path d="M94.54,282.47h4.40M96.74,280.27v4.40" stroke="#333" stroke-width="0.6" fill="none"/>
<path d="M91.93,283.27h4.40M94.13,281.07v4.40" stroke="#111" stroke-width="0.6" fill="none"/>
<path d="M82.86,286.67h4.40M85.06,284.47v4.40" stroke="#777" stroke-width="0.6" fill="none"/>
<path d="M92.19,258.78h4.40M94.39,256.58v4.40" stroke="#111" stroke-width="0.6" fill="none"/>
<path d="M98.66,327.31h4.40M100.86,325.11v4.40" stroke="#444" stroke-width="0.6" fill="none"/>
<path d="M90.53,279.20h4.40M92.73,277.00v4.40" stroke="#222" stroke-width="0.6" fill="none"/>
<path d="M88.98,321.95h4.40M91.18,319.75v4.40" stroke="#222" stroke-width="0.6" fill="none"/>
<path d="M92.04,267.11h4.40M94.24,264.91v4.40" stroke="#555" stroke-width="0.6" fill="none"/>
<path d="M74.80,263.00h4.40M77.00,260.80v4.40" stroke="#111" stroke-width="0.6" fill="none"/>
<path d="M80.69,243.28h4.40M82.89,241.08v4.40" stroke="#111" stroke-width="0.6" fill="none"/>
<path d="M87.48,235.57h4.40M89.68,233.37v4.40" stroke="#111" stroke-width="0.6" fill="none"/>
<path d="M93.74,259.22h4.40M95.94,257.02v4.40" stroke="#222" stroke-width="0.6" fill="none"/>
<path d="M84.73,221.69h4.40M86.93,219.49v4.40" stroke="#444" stroke-width="0.6" fill="none"/>
<path d="M85.81,251.88h4.40M88.01,249.68v4.40" stroke="#222" stroke-width="0.6" fill="none"/>
<path d="M87.20,304.93h4.40M89.40,302.73v4.40" stroke="#777" stroke-width="0.6" fill="none"/>
<path d="M87.58,253.71h4.40M89.78,251.51v4.40" stroke="#222" stroke-width="0.6" fill="none"/>
<path d="M91.48,278.82h4.40M93.68,276.62v4.40" stroke="#333" stroke-width="0.6" fill="none"/>
<path d="M97.07,244.47h4.40M99.27,242.27v4.40" stroke="#111" stroke-width="0.6" fill="none"/>
<path d="M85.39,224.19h4.40M87.59,221.99v4.40" stroke="#777" stroke-width="0.6" fill="none"/>
<path d="M86.99,240.80h4.40M89.19,238.60v4.40" stroke="#222" stroke-width="0.6" fill="none"/>
<path d="M99.76,280.82h4.40M101.96,278.62v4.40" stroke="#111" stroke-width="0.6" fill="none"/>
<path d="M89.58,278.01h4.40M91.78,275.81v4.40" stroke="#444" stroke-width="0.6" fill="none"/>
<path d="M84.25,308.13h4.40M86.45,305.93v4.40" stroke="#333" stroke-width="0.6" fill="none"/>
<path d="M92.82,228.05h4.40M95.02,225.85v4.40" stroke="#111" stroke-width="0.6" fill="none"/>
<path d="M87.71,303.13h4.40M89.91,300.93v4.40" stroke="#777" stroke-width="0.6" fill="none"/>
<path d="M107.30,248.03h4.40M109.50,245.83v4.40" stroke="#333" stroke-width="0.6" fill="none"/>
<path d="M97.15,283.75h4.40M99.35,281.55v4.40" stroke="#555" stroke-width="0.6" fill="none"/>
<path d="M90.03,260.72h4.40M92.23,258.52v4.40" stroke="#555" stroke-width="0.6" fill="none"/>
<path d="M90.34,258.55h4.40M92.54,256.35v4.40" stroke="#1a1a1a" stroke-width="0.6" fill="none"/>
<path d="M86.49,246.66h4.40M88.69,244.46v4.40" stroke="#1a1a1a" stroke-width="0.6" fill="none"/>
<path d="M87.65,263.05h4.40M89.85,260.85v4.40" stroke="#333" stroke-width="0.6" fill="none"/>
<path d="M99.91,280.08h4.40M102.11,277.88v4.40" stroke="#777" stroke-width="0.6" fill="none"/>
<path d="M96.44,258.77h4.40M98.64,256.57v4.40" stroke="#333" stroke-width="0.6" fill="none"/>
<path d="M91.88,270.19h4.40M94.08,267.99v4.40" stroke="#444" stroke-width="0.6" fill="none"/>
<path d="M104.33,239.11h4.40M106.53,236.91v4.40" stroke="#444" stroke-width="0.6" fill="none"/>
<path d="M91.77,276.26h4.40M93.97,274.06v4.40" stroke="#333" stroke-width="0.6" fill="none"/>
<path d="M74.80,258.07h4.40M77.00,255.87v4.40" stroke="#222" stroke-width="0.6" fill="none"/>
<path d="M92.50,279.53h4.40M94.70,277.33v4.40" stroke="#1a1a1a" stroke-width="0.6" fill="none"/>
<path d="M86.17,249.12h4.40M88.37,246.92v4.40" stroke="#555" stroke-width="0.6" fill="none"/>
<path d="M104.92,322.31h4.40M107.12,320.11v4.40" stroke="#111" stroke-width="0.6" fill="none"/>
<path d="M87.34,261.43h4.40M89.54,259.23v4.40" stroke="#222" stroke-width="0.6" fill="none"/>
<path d="M104.07,250.18h4.40M106.27,247.98v4.40" stroke="#777" stroke-width="0.6" fill="none"/>
<path d="M83.33,276.73h4.40M85.53,274.53v4.40" stroke="#444" stroke-width="0.6" fill="none"/>
<path d="M90.60,306.05h4.40M92.80,303.85v4.40" stroke="#1a1a1a" stroke-width="0.6" fill="none"/>
<path d="M92.35,251.32h4.40M94.55,249.12v4.40" stroke="#777" stroke-width="0.6" fill="none"/>
<path d="M105.19,234.75h4.40M107.39,232.55v4.40" stroke="#333" stroke-width="0.6" fill="none"/>
<path d="M107.30,314.43h4.40M109.50,312.23v4.40" stroke="#777" stroke-width="0.6" fill="none"/>
<path d="M86.68,267.89h4.40M88.88,265.69v4.40" stroke="#333" stroke-width="0.6" fill="none"/>
<path d="M78.48,248.63h4.40M80.68,246.43v4.40" stroke="#444" stroke-width="0.6" fill="none"/>
<path d="M74.85,266.44h4.40M77.05,264.24v4.40" stroke="#222" stroke-width="0.6" fill="none"/>
<path d="M96.97,270.17h4.40M99.17,267.97v4.40" stroke="#555" stroke-width="0.6" fill="none"/>
<path d="M99.38,283.63h4.40M101.58,281.43v4.40" stroke="#333" stroke-width="0.6" fill="none"/>
<path d="M96.57,267.97h4.40M98.77,265.77v4.40" stroke="#1a1a1a" stroke-width="0.6" fill="none"/>
<path d="M95.41,286.88h4.40M97.61,284.68v4.40" stroke="#555" stroke-width="0.6" fill="none"/>
<path d="M93.60,256.22h4.40M95.80,254.02v4.40" stroke="#111" stroke-width="0.6" fill="none"/>
<path d="M87.53,280.90h4.40M89.73,278.70v4.40" stroke="#222" stroke-width="0.6" fill="none"/>
<path d="M97.68,260.47h4.40M99.88,258.27v4.40" stroke="#555" stroke-width="0.6" fill="none"/>
<path d="M87.58,312.79h4.40M89.78,310.59v4.40" stroke="#111" stroke-width="0.6" fill="none"/>
<path d="M74.80,308.70h4.40M77.00,306.50v4.40" stroke="#111" stroke-width="0.6" fill="none"/>
<path d="M89.85,258.26h4.40M92.05,256.06v4.40" stroke="#1a1a1a" stroke-width="0.6" fill="none"/>
<path d="M90.15,276.68h4.40M92.35,274.48v4.40" stroke="#1a1a1a" stroke-width="0.6" fill="none"/>
<path d="M103.83,266.46h4.40M106.03,264.26v4.40" stroke="#333" stroke-width="0.6" fill="none"/>
<path d="M90.08,295.50h4.40M92.28,293.30v4.40" stroke="#222" stroke-width="0.6" fill="none"/>
<path d="M85.49,257.69h4.40M87.69,255.49v4.40" stroke="#333" stroke-width="0.6" fill="none"/>
<path d="M93.97,310.94h4.40M96.17,308.74v4.40" stroke="#333" stroke-width="0.6" fill="none"/>
<path d="M92.74,264.69h4.40M94.94,262.49v4.40" stroke="#333" stroke-width="0.6" fill="none"/>
<path d="M84.16,241.33h4.40M86.36,239.13v4.40" stroke="#333" stroke-width="0.6" fill="none"/>
<path d="M103.29,314.59h4.40M105.49,312.39v4.40" stroke="#555" stroke-width="0.6" fill="none"/>
<path d="M102.05,288.45h4.40M104.25,286.25v4.40" stroke="#222" stroke-width="0.6" fill="none"/>
<path d="M86.91,287.75h4.40M89.11,285.55v4.40" stroke="#1a1a1a" stroke-width="0.6" fill="none"/>
<path d="M92.38,234.69h4.40M94.58,232.49v4.40" stroke="#333" stroke-width="0.6" fill="none"/>
<path d="M86.54,262.75h4.40M88.74,260.55v4.40" stroke="#333" stroke-width="0.6" fill="none"/>
<path d="M84.91,293.99h4.40M87.11,291.79v4.40" stroke="#111" stroke-width="0.6" fill="none"/>
<path d="M85.64,284.07h4.40M87.84,281.87v4.40" stroke="#333" stroke-width="0.6" fill="none"/>
<path d="M93.36,235.35h4.40M95.56,233.15v4.40" stroke="#444" stroke-width="0.6" fill="none"/>
<path d="M82.47,240.08h4.40M84.67,237.88v4.40" stroke="#222" stroke-width="0.6" fill="none"/>
<path d="M90.00,259.06h4.40M92.20,256.86v4.40" stroke="#222" stroke-width="0.6" fill="none"/>
<path d="M82.49,286.65h4.40M84.69,284.45v4.40" stroke="#333" stroke-width="0.6" fill="none"/>
<path d="M97.53,286.70h4.40M99.73,284.50v4.40" stroke="#555" stroke-width="0.6" fill="none"/>
<path d="M84.63,251.89h4.40M86.83,249.69v4.40" stroke="#222" stroke-width="0.6" fill="none"/>
<path d="M84.31,270.67h4.40M86.51,268.47v4.40" stroke="#222" stroke-width="0.6" fill="none"/>
<path d="M84.73,284.73h4.40M86.93,282.53v4.40" stroke="#111" stroke-width="0.6" fill="none"/>
<path d="M84.93,288.63h4.40M87.13,286.43v4.40" stroke="#333" stroke-width="0.6" fill="none"/>
<path d="M96.10,250.00h4.40M98.30,247.80v4.40" stroke="#777" stroke-width="0.6" fill="none"/>
<path d="M93.97,281.56h4.40M96.17,279.36v4.40" stroke="#1a1a1a" stroke-width="0.6" fill="none"/>
<path d="M96.09,300.53h4.40M98.29,298.33v4.40" stroke="#111" stroke-width="0.6" fill="none"/>
<path d="M77.68,328.96h4.40M79.88,326.76v4.40" stroke="#555" stroke-width="0.6" fill="none"/>
<path d="M104.33,257.37h4.40M106.53,255.17v4.40" stroke="#111" stroke-width="0.6" fill="none"/>
<path d="M99.27,269.68h4.40M101.47,267.48v4.40" stroke="#555" stroke-width="0.6" fill="none"/>
<path d="M98.52,274.50h4.40M100.72,272.30v4.40" stroke="#111" stroke-width="0.6" fill="none"/>
<path d="M91.04,265.96h4.40M93.24,263.76v4.40" stroke="#111" stroke-width="0.6" fill="none"/>
<path d="M92.21,287.14h4.40M94.41,284.94v4.40" stroke="#444" stroke-width="0.6" fill="none"/>
<path d="M85.95,269.18h4.40M88.15,266.98v4.40" stroke="#1a1a1a" stroke-width="0.6" fill="none"/>
<path d="M95.71,281.46h4.40M97.91,279.26v4.40" stroke="#444" stroke-width="0.6" fill="none"/>
<path d="M93.57,256.63h4.40M95.77,254.43v4.40" stroke="#777" stroke-width="0.6" fill="none"/>
<path d="M95.58,252.89h4.40M97.78,250.69v4.40" stroke="#555" stroke-width="0.6" fill="none"/>
<path d="M91.39,261.46h4.40M93.59,259.26v4.40" stroke="#222" stroke-width="0.6" fill="none"/>
<path d="M90.36,318.26h4.40M92.56,316.06v4.40" stroke="#777" stroke-width="0.6" fill="none"/>
<path d="M74.80,285.70h4.40M77.00,283.50v4.40" stroke="#1a1a1a" stroke-width="0.6" fill="none"/>
<path d="M83.26,262.82h4.40M85.46,260.62v4.40" stroke="#1a1a1a" stroke-width="0.6" fill="none"/>
<path d="M97.98,287.04h4.40M100.18,284.84v4.40" stroke="#1a1a1a" stroke-width="0.6" fill="none"/>
<path d="M84.98,251.49h4.40M87.18,249.29v4.40" stroke="#111" stroke-width="0.6" fill="none"/>
<path d="M88.25,286.80h4.40M90.45,284.60v4.40" stroke="#1a1a1a" stroke-width="0.6" fill="none"/>
<path d="M92.19,279.25h4.40M94.39,277.05v4.40" stroke="#555" stroke-width="0.6" fill="none"/>
<path d="M107.30,285.59h4.40M109.50,283.39v4.40" stroke="#333" stroke-width="0.6" fill="none"/>
<path d="M95.50,301.88h4.40M97.70,299.68v4.40" stroke="#777" stroke-width="0.6" fill="none"/>
<path d="M96.49,277.05h4.40M98.69,274.85v4.40" stroke="#777" stroke-width="0.6" fill="none"/>
<path d="M94.01,303.63h4.40M96.21,301.43v4.40" stroke="#1a1a1a" stroke-width="0.6" fill="none"/>
<path d="M93.95,237.21h4.40M96.15,235.01v4.40" stroke="#333" stroke-width="0.6" fill="none"/>
<path d="M86.15,303.50h4.40M88.35,301.30v4.40" stroke="#1a1a1a" stroke-width="0.6" fill="none"/>
<path d="M82.50,276.33h4.40M84.70,274.13v4.40" stroke="#444" stroke-width="0.6" fill="none"/>
<path d="M98.34,253.35h4.40M100.54,251.15v4.40" stroke="#333" stroke-width="0.6" fill="none"/>
<path d="M93.13,278.51h4.40M95.33,276.31v4.40" stroke="#333" stroke-width="0.6" fill="none"/>
<path d="M85.45,293.19h4.40M87.65,290.99v4.40" stroke="#555" stroke-width="0.6" fill="none"/>
<path d="M93.43,317.78h4.40M95.63,315.58v4.40" stroke="#333" stroke-width="0.6" fill="none"/>
<path d="M84.22,287.19h4.40M86.42,284.99v4.40" stroke="#333" stroke-width="0.6" fill="none"/>
<path d="M81.04,287.22h4.40M83.24,285.02v4.40" stroke="#111" stroke-width="0.6" fill="none"/>
<path d="M95.05,286.92h4.40M97.25,284.72v4.40" stroke="#333" stroke-width="0.6" fill="none"/>
<path d="M92.53,267.90h4.40M94.73,265.70v4.40" stroke="#777" stroke-width="0.6" fill="none"/>
<path d="M96.74,284.75h4.40M98.94,282.55v4.40" stroke="#555" stroke-width="0.6" fill="none"/>
<path d="M90.65,280.91h4.40M92.85,278.71v4.40" stroke="#555" stroke-width="0.6" fill="none"/>
<path d="M80.31,235.11h4.40M82.51,232.91v4.40" stroke="#444" stroke-width="0.6" fill="none"/>
<path d="M76.72,238.07h4.40M78.92,235.87v4.40" stroke="#222" stroke-width="0.6" fill="none"/>
<path d="M95.74,252.65h4.40M97.94,250.45v4.40" stroke="#222" stroke-width="0.6" fill="none"/>
<path d="M88.88,256.91h4.40M91.08,254.71v4.40" stroke="#333" stroke-width="0.6" fill="none"/>
<path d="M105.04,284.18h4.40M107.24,281.98v4.40" stroke="#333" stroke-width="0.6" fill="none"/>
<path d="M89.55,288.87h4.40M91.75,286.67v4.40" stroke="#222" stroke-width="0.6" fill="none"/>
<path d="M102.47,285.37h4.40M104.67,283.17v4.40" stroke="#555" stroke-width="0.6" fill="none"/>
<path d="M93.04,238.70h4.40M95.24,236.50v4.40" stroke="#1a1a1a" stroke-width="0.6" fill="none"/>
<path d="M90.94,294.93h4.40M93.14,292.73v4.40" stroke="#222" stroke-width="0.6" fill="none"/>
<path d="M86.08,222.57h4.40M88.28,220.37v4.40" stroke="#333" stroke-width="0.6" fill="none"/>
<path d="M86.75,280.05h4.40M88.95,277.85v4.40" stroke="#1a1a1a" stroke-width="0.6" fill="none"/>
<path d="M84.00,205.62h4.40M86.20,203.43v4.40" stroke="#444" stroke-width="0.6" fill="none"/>
<path d="M90.60,229.89h4.40M92.80,227.69v4.40" stroke="#555" stroke-width="0.6" fill="none"/>
<path d="M105.30,221.80h4.40M107.50,219.60v4.40" stroke="#777" stroke-width="0.6" fill="none"/>
<path d="M159.48,313.19h4.40M161.68,310.99v4.40" stroke="#444" stroke-width="0.6" fill="none"/>
<path d="M164.82,299.30h4.40M167.02,297.10v4.40" stroke="#222" stroke-width="0.6" fill="none"/>
<path d="M170.21,298.42h4.40M172.41,296.22v4.40" stroke="#222" stroke-width="0.6" fill="none"/>
<path d="M163.98,272.68h4.40M166.18,270.48v4.40" stroke="#222" stroke-width="0.6" fill="none"/>
<path d="M180.06,322.68h4.40M182.26,320.48v4.40" stroke="#555" stroke-width="0.6" fill="none"/>
<path d="M167.87,307.64h4.40M170.07,305.44v4.40" stroke="#222" stroke-width="0.6" fill="none"/>
<path d="M156.30,269.51h4.40M158.50,267.31v4.40" stroke="#777" stroke-width="0.6" fill="none"/>
<path d="M168.10,299.20h4.40M170.30,297.00v4.40" stroke="#555" stroke-width="0.6" fill="none"/>
<path d="M188.80,280.80h4.40M191.00,278.60v4.40" stroke="#333" stroke-width="0.6" fill="none"/>
<path d="M179.54,331.37h4.40M181.74,329.17v4.40" stroke="#111" stroke-width="0.6" fill="none"/>
<path d="M168.04,301.94h4.40M170.24,299.74v4.40" stroke="#222" stroke-width="0.6" fill="none"/>
<path d="M175.88,310.75h4.40M178.08,308.55v4.40" stroke="#444" stroke-width="0.6" fill="none"/>
<path d="M172.44,296.25h4.40M174.64,294.05v4.40" stroke="#333" stroke-width="0.6" fill="none"/>
<path d="M166.45,310.14h4.40M168.65,307.94v4.40" stroke="#555" stroke-width="0.6" fill="none"/>
<path d="M178.92,271.67h4.40M181.12,269.47v4.40" stroke="#777" stroke-width="0.6" fill="none"/>
<path d="M163.41,311.50h4.40M165.61,309.30v4.40" stroke="#777" stroke-width="0.6" fill="none"/>
<path d="M177.14,279.32h4.40M179.34,277.12v4.40" stroke="#222" stroke-width="0.6" fill="none"/>
<path d="M173.55,336.26h4.40M175.75,334.06v4.40" stroke="#777" stroke-width="0.6" fill="none"/>
<path d="M174.46,285.25h4.40M176.66,283.05v4.40" stroke="#222" stroke-width="0.6" fill="none"/>
<path d="M165.63,290.36h4.40M167.83,288.16v4.40" stroke="#222" stroke-width="0.6" fill="none"/>
<path d="M171.59,291.09h4.40M173.79,288.89v4.40" stroke="#444" stroke-width="0.6" fill="none"/>
<path d="M173.20,293.58h4.40M175.40,291.38v4.40" stroke="#777" stroke-width="0.6" fill="none"/>
<path d="M171.63,325.03h4.40M173.83,322.83v4.40" stroke="#333" stroke-width="0.6" fill="none"/>
<path d="M174.11,308.40h4.40M176.31,306.20v4.40" stroke="#333" stroke-width="0.6" fill="none"/>
<path d="M156.30,304.25h4.40M158.50,302.05v4.40" stroke="#333" stroke-width="0.6" fill="none"/>
<path d="M185.87,269.79h4.40M188.07,267.59v4.40" stroke="#1a1a1a" stroke-width="0.6" fill="none"/>
<path d="M158.46,292.61h4.40M160.66,290.41v4.40" stroke="#222" stroke-width="0.6" fill="none"/>
<path d="M169.12,305.67h4.40M171.32,303.47v4.40" stroke="#333" stroke-width="0.6" fill="none"/>
<path d="M171.71,294.33h4.40M173.91,292.13v4.40" stroke="#444" stroke-width="0.6" fill="none"/>
<path d="M175.54,323.94h4.40M177.74,321.74v4.40" stroke="#333" stroke-width="0.6" fill="none"/>
<path d="M170.88,291.56h4.40M173.08,289.36v4.40" stroke="#777" stroke-width="0.6" fill="none"/>
<path d="M165.72,283.77h4.40M167.92,281.57v4.40" stroke="#333" stroke-width="0.6" fill="none"/>
<path d="M172.65,299.57h4.40M174.85,297.37v4.40" stroke="#555" stroke-width="0.6" fill="none"/>
<path d="M160.49,270.39h4.40M162.69,268.19v4.40" stroke="#1a1a1a" stroke-width="0.6" fill="none"/>
<path d="M171.61,290.65h4.40M173.81,288.45v4.40" stroke="#1a1a1a" stroke-width="0.6" fill="none"/>
<path d="M161.44,329.31h4.40M163.64,327.11v4.40" stroke="#1a1a1a" stroke-width="0.6" fill="none"/>
<path d="M182.30,284.47h4.40M184.50,282.27v4.40" stroke="#333" stroke-width="0.6" fill="none"/>
<path d="M170.81,313.31h4.40M173.01,311.11v4.40" stroke="#1a1a1a" stroke-width="0.6" fill="none"/>
<path d="M162.59,311.05h4.40M164.79,308.85v4.40" stroke="#1a1a1a" stroke-width="0.6" fill="none"/>
<path d="M158.33,276.67h4.40M160.53,274.47v4.40" stroke="#333" stroke-width="0.6" fill="none"/>
<path d="M168.59,311.94h4.40M170.79,309.74v4.40" stroke="#222" stroke-width="0.6" fill="none"/>
<path d="M162.98,296.05h4.40M165.18,293.85v4.40" stroke="#111" stroke-width="0.6" fill="none"/>
<path d="M170.24,284.99h4.40M172.44,282.79v4.40" stroke="#777" stroke-width="0.6" fill="none"/>
<path d="M178.33,289.96h4.40M180.53,287.76v4.40" stroke="#444" stroke-width="0.6" fill="none"/>
<path d="M172.99,333.30h4.40M175.19,331.10v4.40" stroke="#222" stroke-width="0.6" fill="none"/>
<path d="M166.72,330.99h4.40M168.92,328.79v4.40" stroke="#333" stroke-width="0.6" fill="none"/>
<path d="M171.26,270.81h4.40M173.46,268.61v4.40" stroke="#333" stroke-width="0.6" fill="none"/>
<path d="M164.17,306.51h4.40M166.37,304.31v4.40" stroke="#1a1a1a" stroke-width="0.6" fill="none"/>
<path d="M170.31,283.21h4.40M172.51,281.01v4.40" stroke="#444" stroke-width="0.6" fill="none"/>
<path d="M183.11,285.49h4.40M185.31,283.29v4.40" stroke="#333" stroke-width="0.6" fill="none"/>
<path d="M162.35,316.42h4.40M164.55,314.22v4.40" stroke="#1a1a1a" stroke-width="0.6" fill="none"/>
<path d="M168.23,318.67h4.40M170.43,316.47v4.40" stroke="#333" stroke-width="0.6" fill="none"/>
<path d="M167.66,292.88h4.40M169.86,290.68v4.40" stroke="#1a1a1a" stroke-width="0.6" fill="none"/>
<path d="M160.37,328.23h4.40M162.57,326.03v4.40" stroke="#333" stroke-width="0.6" fill="none"/>
<path d="M165.90,269.03h4.40M168.10,266.83v4.40" stroke="#333" stroke-width="0.6" fill="none"/>
<path d="M186.57,289.62h4.40M188.77,287.42v4.40" stroke="#444" stroke-width="0.6" fill="none"/>
<path d="M177.31,335.53h4.40M179.51,333.33v4.40" stroke="#444" stroke-width="0.6" fill="none"/>
<path d="M164.73,318.77h4.40M166.93,316.57v4.40" stroke="#1a1a1a" stroke-width="0.6" fill="none"/>
<path d="M178.79,315.77h4.40M180.99,313.57v4.40" stroke="#1a1a1a" stroke-width="0.6" fill="none"/>
<path d="M181.43,337.68h4.40M183.63,335.48v4.40" stroke="#333" stroke-width="0.6" fill="none"/>
<path d="M176.59,290.90h4.40M178.79,288.70v4.40" stroke="#1a1a1a" stroke-width="0.6" fill="none"/>
<path d="M160.47,269.04h4.40M162.67,266.84v4.40" stroke="#222" stroke-width="0.6" fill="none"/>
<path d="M175.37,289.17h4.40M177.57,286.97v4.40" stroke="#111" stroke-width="0.6" fill="none"/>
<path d="M174.65,319.17h4.40M176.85,316.97v4.40" stroke="#1a1a1a" stroke-width="0.6" fill="none"/>
<path d="M166.82,307.42h4.40M169.02,305.22v4.40" stroke="#777" stroke-width="0.6" fill="none"/>
<path d="M160.45,325.50h4.40M162.65,323.30v4.40" stroke="#444" stroke-width="0.6" fill="none"/>
<path d="M180.38,296.04h4.40M182.58,293.84v4.40" stroke="#1a1a1a" stroke-width="0.6" fill="none"/>
<path d="M179.66,304.50h4.40M181.86,302.30v4.40" stroke="#555" stroke-width="0.6" fill="none"/>
<path d="M175.31,300.89h4.40M177.51,298.69v4.40" stroke="#444" stroke-width="0.6" fill="none"/>
<path d="M171.35,274.31h4.40M173.55,272.11v4.40" stroke="#1a1a1a" stroke-width="0.6" fill="none"/>
<path d="M164.98,311.84h4.40M167.18,309.64v4.40" stroke="#222" stroke-width="0.6" fill="none"/>
<path d="M173.38,289.71h4.40M175.58,287.51v4.40" stroke="#444" stroke-width="0.6" fill="none"/>
<path d="M160.04,309.59h4.40M162.24,307.39v4.40" stroke="#111" stroke-width="0.6" fill="none"/>
<path d="M172.50,277.49h4.40M174.70,275.29v4.40" stroke="#777" stroke-width="0.6" fill="none"/>
<path d="M177.99,308.99h4.40M180.19,306.79v4.40" stroke="#333" stroke-width="0.6" fill="none"/>
<path d="M164.50,326.08h4.40M166.70,323.88v4.40" stroke="#1a1a1a" stroke-width="0.6" fill="none"/>
<path d="M178.10,334.46h4.40M180.30,332.26v4.40" stroke="#777" stroke-width="0.6" fill="none"/>
<path d="M175.23,327.99h4.40M177.43,325.79v4.40" stroke="#333" stroke-width="0.6" fill="none"/>
<path d="M158.31,278.22h4.40M160.51,276.02v4.40" stroke="#333" stroke-width="0.6" fill="none"/>
<path d="M184.62,323.94h4.40M186.82,321.74v4.40" stroke="#1a1a1a" stroke-width="0.6" fill="none"/>
<path d="M173.16,288.70h4.40M175.36,286.50v4.40" stroke="#555" stroke-width="0.6" fill="none"/>
<path d="M164.87,320.56h4.40M167.07,318.36v4.40" stroke="#444" stroke-width="0.6" fill="none"/>
<path d="M169.77,308.40h4.40M171.97,306.20v4.40" stroke="#1a1a1a" stroke-width="0.6" fill="none"/>
<path d="M172.12,345.42h4.40M174.32,343.22v4.40" stroke="#222" stroke-width="0.6" fill="none"/>
<path d="M177.96,307.24h4.40M180.16,305.04v4.40" stroke="#222" stroke-width="0.6" fill="none"/>
<path d="M175.71,275.06h4.40M177.91,272.86v4.40" stroke="#1a1a1a" stroke-width="0.6" fill="none"/>
<path d="M161.55,299.79h4.40M163.75,297.59v4.40" stroke="#777" stroke-width="0.6" fill="none"/>
<path d="M181.07,305.67h4.40M183.27,303.47v4.40" stroke="#1a1a1a" stroke-width="0.6" fill="none"/>
<path d="M170.98,275.98h4.40M173.18,273.78v4.40" stroke="#1a1a1a" stroke-width="0.6" fill="none"/>
<path d="M170.77,338.09h4.40M172.97,335.89v4.40" stroke="#777" stroke-width="0.6" fill="none"/>
<text x="260.60" y="210.80" font-size="11" font-weight="bold" text-anchor="start" fill="#000" >d.</text>
<line x1="318.00" y1="220.50" x2="318.00" y2="347.60" stroke="#111" stroke-width="1.2" />
<line x1="314.60" y1="220.70" x2="318.00" y2="220.70" stroke="#111" stroke-width="1.1" />
<text x="313.40" y="223.70" font-size="8.6" font-weight="bold" text-anchor="end" fill="#111" >1.5</text>
<line x1="314.60" y1="262.80" x2="318.00" y2="262.80" stroke="#111" stroke-width="1.1" />
<text x="313.40" y="265.80" font-size="8.6" font-weight="bold" text-anchor="end" fill="#111" >1.0</text>
<line x1="314.60" y1="304.90" x2="318.00" y2="304.90" stroke="#111" stroke-width="1.1" />
<text x="313.40" y="307.90" font-size="8.6" font-weight="bold" text-anchor="end" fill="#111" >0.5</text>
<line x1="314.60" y1="347.00" x2="318.00" y2="347.00" stroke="#111" stroke-width="1.1" />
<text x="313.40" y="350.00" font-size="8.6" font-weight="bold" text-anchor="end" fill="#111" >0.0</text>
<line x1="317.40" y1="347.00" x2="467.80" y2="347.00" stroke="#111" stroke-width="1.2" />
<line x1="353.00" y1="347.00" x2="353.00" y2="351.60" stroke="#111" stroke-width="1.1" />
<line x1="432.70" y1="347.00" x2="432.70" y2="351.60" stroke="#111" stroke-width="1.1" />
<rect x="327.50" y="263.40" width="21.00" height="83.60" fill="#000" />
<rect x="357.10" y="319.00" width="21.60" height="28.00" fill="#a2a1a6" />
<rect x="407.00" y="262.70" width="21.10" height="84.30" fill="#000" />
<rect x="437.00" y="323.00" width="21.10" height="24.00" fill="#a2a1a6" />
<line x1="367.90" y1="319.00" x2="367.90" y2="307.70" stroke="#111" stroke-width="1.1" />
<line x1="363.00" y1="307.60" x2="372.80" y2="307.60" stroke="#111" stroke-width="1.4" />
<line x1="447.50" y1="323.00" x2="447.50" y2="317.60" stroke="#111" stroke-width="1.1" />
<line x1="442.40" y1="317.60" x2="451.90" y2="317.60" stroke="#111" stroke-width="1.4" />
<text x="368.00" y="308.00" font-size="13" font-weight="bold" text-anchor="middle" fill="#111" >**</text>
<text x="447.50" y="318.70" font-size="13" font-weight="bold" text-anchor="middle" fill="#111" >**</text>
<text x="368.70" y="296.30" font-size="8.0" font-weight="bold" text-anchor="middle" fill="#111" >p=0.0014</text>
<text x="447.70" y="304.70" font-size="8.0" font-weight="bold" text-anchor="middle" fill="#111" >p=0.0051</text>
<text x="352.70" y="360.80" font-size="10.2" font-weight="bold" text-anchor="middle" fill="#111" textLength="41.4" lengthAdjust="spacingAndGlyphs">HCC1143</text>
<text x="432.20" y="361.00" font-size="10.2" font-weight="bold" text-anchor="middle" fill="#111" textLength="41.8" lengthAdjust="spacingAndGlyphs">HCC1954</text>
<rect x="332.20" y="227.00" width="14.80" height="8.90" fill="#000" />
<rect x="332.20" y="244.10" width="14.80" height="8.90" fill="#a2a1a6" />
<text x="353.60" y="234.90" font-size="10.1" font-weight="bold" text-anchor="start" fill="#111" >siC</text>
<text x="353.60" y="252.00" font-size="10.1" font-weight="bold" text-anchor="start" fill="#111" >siSOX4</text>
<text transform="translate(295,284.3) rotate(-90)" font-size="10.1" font-weight="bold" text-anchor="middle" fill="#111">Relative SOX4 mRNA levels</text>
<text x="4.70" y="399.60" font-size="11.5" font-weight="bold" text-anchor="start" fill="#000" >e.</text>
<text transform="translate(60.60,428.60) rotate(-46)" font-size="9.9" font-weight="bold" fill="#111">siC</text>
<text transform="translate(88.80,428.60) rotate(-46)" font-size="9.9" font-weight="bold" fill="#111">siSOX4</text>
<clipPath id="clipe0"><rect x="46.40" y="432.80" width="59.70" height="24.60"/></clipPath>
<rect x="45.90" y="432.30" width="60.70" height="25.60" fill="#f6f6f6" />
<g clip-path="url(#clipe0)">
<path d="M45,432 H58 Q51.6,433.5 51.2,440 L51.2,451 Q51.6,457 58,458.5 H45 Z" fill="#000" filter="url(#g12)"/>
<ellipse cx="61" cy="445.5" rx="12" ry="4.5" fill="#aaa" opacity="0.4" filter="url(#g16)"/>
<ellipse cx="55.5" cy="445.3" rx="6.5" ry="2.7" fill="#000" opacity="1" filter="url(#g9)"/>
<rect x="55" y="443.70" width="17.60" height="3.6" rx="1.80" fill="#000" opacity="1" filter="url(#g9)"/>
<ellipse cx="83.6" cy="446.3" rx="3.2" ry="1.9" fill="#0a0a0a" opacity="1" filter="url(#g9)"/>
<rect x="84" y="445.40" width="8.00" height="2.0" rx="1.00" fill="#333" opacity="1" filter="url(#g8)"/>
<rect x="90" y="444.70" width="10.00" height="3.0" rx="1.50" fill="#1a1a1a" opacity="1" filter="url(#g9)"/>
</g>
<rect x="45.90" y="432.30" width="60.70" height="25.6" fill="none" stroke="#222" stroke-width="1.25"/>
<text x="44.50" y="447.70" font-size="9.8" font-weight="bold" text-anchor="end" fill="#111" >SOX4</text>
<line x1="106.60" y1="440.50" x2="110.00" y2="440.50" stroke="#111" stroke-width="1" />
<text x="114.00" y="441.20" font-size="6.4"  text-anchor="start" fill="#222" textLength="18.4" lengthAdjust="spacingAndGlyphs" stroke="#222" stroke-width="0.25">52 kDa</text>
<line x1="106.60" y1="450.50" x2="110.00" y2="450.50" stroke="#111" stroke-width="1" />
<text x="114.00" y="452.60" font-size="6.4"  text-anchor="start" fill="#222" textLength="18.4" lengthAdjust="spacingAndGlyphs" stroke="#222" stroke-width="0.25">37 kDa</text>
<clipPath id="clipe1"><rect x="46.40" y="461.90" width="59.70" height="24.60"/></clipPath>
<rect x="45.90" y="461.40" width="60.70" height="25.60" fill="#e3e3e3" />
<g clip-path="url(#clipe1)">
<rect x="51" y="471.90" width="18.30" height="2.8" rx="1.40" fill="#0a0a0a" opacity="1" filter="url(#g8)"/>
<rect x="81.2" y="471.95" width="17.80" height="1.9" rx="0.95" fill="#808080" opacity="1" filter="url(#g8)"/>
<ellipse cx="89.5" cy="472.9" rx="2.6" ry="1.0" fill="#6e6e6e" opacity="1" filter="url(#g7)"/>
<ellipse cx="96.8" cy="472.9" rx="2.6" ry="1.1" fill="#666" opacity="1" filter="url(#g7)"/>
</g>
<rect x="45.90" y="461.40" width="60.70" height="25.6" fill="none" stroke="#222" stroke-width="1.25"/>
<text x="44.50" y="476.80" font-size="9.8" font-weight="bold" text-anchor="end" fill="#111" >p-Akt</text>
<line x1="106.60" y1="473.50" x2="110.00" y2="473.50" stroke="#111" stroke-width="1" />
<text x="114.00" y="476.10" font-size="6.4"  text-anchor="start" fill="#222" textLength="18.4" lengthAdjust="spacingAndGlyphs" stroke="#222" stroke-width="0.25">60 kDa</text>
<clipPath id="clipe2"><rect x="46.40" y="491.70" width="59.70" height="24.60"/></clipPath>
<rect x="45.90" y="491.20" width="60.70" height="25.60" fill="#dedede" />
<g clip-path="url(#clipe2)">
<ellipse cx="62" cy="498" rx="9" ry="4" fill="#c6c6c6" opacity="1" filter="url(#g20)"/>
<ellipse cx="89" cy="498" rx="9" ry="4" fill="#c2c2c2" opacity="1" filter="url(#g20)"/>
<rect x="53" y="502.30" width="19.00" height="5.4" rx="2.70" fill="#2a2a2a" opacity="1" filter="url(#g12)"/>
<rect x="80" y="501.60" width="19.60" height="5.4" rx="2.70" fill="#1a1a1a" opacity="1" filter="url(#g12)" transform="rotate(-3 89.80 504.3)"/>
</g>
<rect x="45.90" y="491.20" width="60.70" height="25.6" fill="none" stroke="#222" stroke-width="1.25"/>
<text x="44.50" y="506.60" font-size="9.8" font-weight="bold" text-anchor="end" fill="#111" >Total Akt</text>
<line x1="106.60" y1="503.50" x2="110.00" y2="503.50" stroke="#111" stroke-width="1" />
<text x="114.00" y="505.90" font-size="6.4"  text-anchor="start" fill="#222" textLength="18.4" lengthAdjust="spacingAndGlyphs" stroke="#222" stroke-width="0.25">60 kDa</text>
<clipPath id="clipe3"><rect x="46.40" y="520.80" width="59.70" height="24.60"/></clipPath>
<rect x="45.90" y="520.30" width="60.70" height="25.60" fill="#dcdcdc" />
<g clip-path="url(#clipe3)">
<rect x="46" y="520.3" width="30" height="26" fill="#cfcfcf" filter="url(#g25)"/>
<ellipse cx="63.7" cy="534.5" rx="12" ry="8" fill="#aaa" opacity="1" filter="url(#g20)"/>
<rect x="53" y="528.30" width="21.90" height="3.0" rx="1.50" fill="#111" opacity="1" filter="url(#g8)"/>
<rect x="53" y="533.70" width="21.90" height="6.2" rx="3.00" fill="#000" opacity="1" filter="url(#g9)"/>
<ellipse cx="54" cy="533.5" rx="2" ry="5" fill="#111" opacity="1" filter="url(#g9)"/>
<rect x="56" y="532.30" width="16.00" height="1.2" rx="0.60" fill="#888" opacity="1" filter="url(#g6)"/>
<rect x="81.5" y="529.30" width="18.10" height="1.4" rx="0.70" fill="#b0b0b0" opacity="1" filter="url(#g8)"/>
<rect x="81.5" y="536.60" width="18.50" height="2.8" rx="1.40" fill="#5a5a5a" opacity="1" filter="url(#g9)"/>
<ellipse cx="84" cy="538.2" rx="2.5" ry="1.6" fill="#444" opacity="1" filter="url(#g8)"/>
<ellipse cx="97.5" cy="537.5" rx="2.5" ry="1.6" fill="#444" opacity="1" filter="url(#g8)"/>
</g>
<rect x="45.90" y="520.30" width="60.70" height="25.6" fill="none" stroke="#222" stroke-width="1.25"/>
<text x="44.50" y="535.70" font-size="9.8" font-weight="bold" text-anchor="end" fill="#111" >p-P70S6K</text>
<line x1="106.60" y1="536.50" x2="110.00" y2="536.50" stroke="#111" stroke-width="1" />
<text x="114.00" y="538.90" font-size="6.4"  text-anchor="start" fill="#222" textLength="18.4" lengthAdjust="spacingAndGlyphs" stroke="#222" stroke-width="0.25">70 kDa</text>
<clipPath id="clipe4"><rect x="46.40" y="550.70" width="59.70" height="24.60"/></clipPath>
<rect x="45.90" y="550.20" width="60.70" height="25.60" fill="#e0e0e0" />
<g clip-path="url(#clipe4)">
<ellipse cx="63.8" cy="563" rx="10.5" ry="6.5" fill="#c4c4c4" opacity="1" filter="url(#g18)"/>
<ellipse cx="89" cy="563" rx="10" ry="6.5" fill="#c4c4c4" opacity="1" filter="url(#g18)"/>
<rect x="55.4" y="558.20" width="15.70" height="2.4" rx="1.20" fill="#3a3a3a" opacity="1" filter="url(#g8)"/>
<rect x="54.7" y="564.00" width="18.30" height="4.6" rx="2.30" fill="#000" opacity="1" filter="url(#g9)"/>
<rect x="54.7" y="559.00" width="1.80" height="7" rx="3.00" fill="#777" opacity="1" filter="url(#g8)"/>
<rect x="71.3" y="559.00" width="1.70" height="7" rx="3.00" fill="#777" opacity="1" filter="url(#g8)"/>
<rect x="80.6" y="557.50" width="16.40" height="2.4" rx="1.20" fill="#2a2a2a" opacity="1" filter="url(#g8)"/>
<rect x="79.4" y="563.70" width="18.90" height="4.6" rx="2.30" fill="#000" opacity="1" filter="url(#g9)"/>
<rect x="79.6" y="558.80" width="1.80" height="7" rx="3.00" fill="#666" opacity="1" filter="url(#g8)"/>
<rect x="96.3" y="558.80" width="1.80" height="7" rx="3.00" fill="#666" opacity="1" filter="url(#g8)"/>
</g>
<rect x="45.90" y="550.20" width="60.70" height="25.6" fill="none" stroke="#222" stroke-width="1.25"/>
<text x="44.50" y="565.60" font-size="9.8" font-weight="bold" text-anchor="end" fill="#111" >P70S6K</text>
<line x1="106.60" y1="566.50" x2="110.00" y2="566.50" stroke="#111" stroke-width="1" />
<text x="114.00" y="568.80" font-size="6.4"  text-anchor="start" fill="#222" textLength="18.4" lengthAdjust="spacingAndGlyphs" stroke="#222" stroke-width="0.25">70 kDa</text>
<clipPath id="clipe5"><rect x="46.40" y="579.70" width="59.70" height="24.60"/></clipPath>
<rect x="45.90" y="579.20" width="60.70" height="25.60" fill="#dcdcdc" />
<g clip-path="url(#clipe5)">
<ellipse cx="63.5" cy="592" rx="9.5" ry="6" fill="#b0b0b0" opacity="1" filter="url(#g20)"/>
<rect x="54.7" y="589.95" width="17.70" height="6.5" rx="3.00" fill="#3a3a3a" opacity="1" filter="url(#g12)"/>
<rect x="55" y="594.30" width="17.20" height="2.6" rx="1.30" fill="#000" opacity="1" filter="url(#g10)"/>
<rect x="81.2" y="591.70" width="18.40" height="5" rx="2.50" fill="#888" opacity="1" filter="url(#g12)"/>
<rect x="81.5" y="594.70" width="17.80" height="2.2" rx="1.10" fill="#666" opacity="1" filter="url(#g10)"/>
</g>
<rect x="45.90" y="579.20" width="60.70" height="25.6" fill="none" stroke="#222" stroke-width="1.25"/>
<text x="44.50" y="594.60" font-size="9.8" font-weight="bold" text-anchor="end" fill="#111" >p-4EBP1</text>
<line x1="106.60" y1="586.50" x2="110.00" y2="586.50" stroke="#111" stroke-width="1" />
<text x="114.00" y="588.30" font-size="6.4"  text-anchor="start" fill="#222" textLength="18.4" lengthAdjust="spacingAndGlyphs" stroke="#222" stroke-width="0.25">25 kDa</text>
<line x1="106.60" y1="597.50" x2="110.00" y2="597.50" stroke="#111" stroke-width="1" />
<text x="114.00" y="600.10" font-size="6.4"  text-anchor="start" fill="#222" textLength="18.4" lengthAdjust="spacingAndGlyphs" stroke="#222" stroke-width="0.25">15 kDa</text>
<clipPath id="clipe6"><rect x="46.40" y="608.70" width="59.70" height="24.60"/></clipPath>
<rect x="45.90" y="608.20" width="60.70" height="25.60" fill="#dadada" />
<g clip-path="url(#clipe6)">
<ellipse cx="62.3" cy="618" rx="11" ry="7" fill="#aaa" opacity="1" filter="url(#g20)"/>
<ellipse cx="89.5" cy="619" rx="10.5" ry="6.5" fill="#aaa" opacity="1" filter="url(#g20)"/>
<rect x="52.5" y="614.75" width="20.00" height="4.5" rx="2.25" fill="#444" opacity="1" filter="url(#g13)"/>
<rect x="52.5" y="617.55" width="20.00" height="6.5" rx="3.00" fill="#000" opacity="1" filter="url(#g12)"/>
<ellipse cx="60" cy="630" rx="6" ry="1.5" fill="#bbb" opacity="1" filter="url(#g15)"/>
<rect x="80" y="615.00" width="18.90" height="3.6" rx="1.80" fill="#2a2a2a" opacity="1" filter="url(#g10)"/>
<rect x="80" y="620.30" width="18.90" height="4.6" rx="2.30" fill="#000" opacity="1" filter="url(#g10)"/>
<rect x="84" y="619.10" width="12.00" height="1.0" rx="0.50" fill="#777" opacity="1" filter="url(#g6)"/>
</g>
<rect x="45.90" y="608.20" width="60.70" height="25.6" fill="none" stroke="#222" stroke-width="1.25"/>
<text x="44.50" y="623.60" font-size="9.8" font-weight="bold" text-anchor="end" fill="#111" >4EBP1</text>
<line x1="106.60" y1="615.50" x2="110.00" y2="615.50" stroke="#111" stroke-width="1" />
<text x="114.00" y="617.30" font-size="6.4"  text-anchor="start" fill="#222" textLength="18.4" lengthAdjust="spacingAndGlyphs" stroke="#222" stroke-width="0.25">25 kDa</text>
<line x1="106.60" y1="626.50" x2="110.00" y2="626.50" stroke="#111" stroke-width="1" />
<text x="114.00" y="628.70" font-size="6.4"  text-anchor="start" fill="#222" textLength="18.4" lengthAdjust="spacingAndGlyphs" stroke="#222" stroke-width="0.25">15 kDa</text>
<clipPath id="clipe7"><rect x="46.40" y="638.00" width="59.70" height="24.60"/></clipPath>
<rect x="45.90" y="637.50" width="60.70" height="25.60" fill="#e6e6e6" />
<g clip-path="url(#clipe7)">
<rect x="54.1" y="649.25" width="18.30" height="3.1" rx="1.55" fill="#1a1a1a" opacity="1" filter="url(#g8)"/>
<rect x="54.1" y="649.25" width="7.90" height="3.5" rx="1.75" fill="#1a1a1a" opacity="1" filter="url(#g8)"/>
<rect x="79.4" y="647.95" width="17.60" height="3.3" rx="1.65" fill="#111" opacity="1" filter="url(#g9)" transform="rotate(-8 88.20 649.6)"/>
</g>
<rect x="45.90" y="637.50" width="60.70" height="25.6" fill="none" stroke="#222" stroke-width="1.25"/>
<text x="44.50" y="652.90" font-size="9.8" font-weight="bold" text-anchor="end" fill="#111" >&#946;-actin</text>
<line x1="106.60" y1="650.50" x2="110.00" y2="650.50" stroke="#111" stroke-width="1" />
<text x="114.00" y="652.50" font-size="6.4"  text-anchor="start" fill="#222" textLength="18.4" lengthAdjust="spacingAndGlyphs" stroke="#222" stroke-width="0.25">42 kDa</text>
<text x="78.15" y="685.10" font-size="11.2" font-weight="bold" text-anchor="middle" fill="#111" >HCC1143</text>
<text x="171.50" y="399.60" font-size="11.5" font-weight="bold" text-anchor="start" fill="#000" >f.</text>
<text transform="translate(227.60,428.60) rotate(-46)" font-size="9.9" font-weight="bold" fill="#111">siC</text>
<text transform="translate(255.80,428.60) rotate(-46)" font-size="9.9" font-weight="bold" fill="#111">siSOX4</text>
<clipPath id="clipf0"><rect x="213.60" y="432.80" width="59.40" height="24.60"/></clipPath>
<rect x="213.10" y="432.30" width="60.40" height="25.60" fill="#f4f4f4" />
<g clip-path="url(#clipf0)">
<rect x="218.8" y="442.30" width="20.00" height="4.0" rx="2.00" fill="#000" opacity="1" filter="url(#g9)"/>
<ellipse cx="221.5" cy="444.3" rx="2.5" ry="2.3" fill="#000" opacity="1" filter="url(#g8)"/>
<rect x="245.7" y="443.15" width="20.20" height="2.7" rx="1.35" fill="#484848" opacity="1" filter="url(#g9)"/>
<ellipse cx="248" cy="444.5" rx="2" ry="1.6" fill="#333" opacity="1" filter="url(#g8)"/>
</g>
<rect x="213.10" y="432.30" width="60.40" height="25.6" fill="none" stroke="#222" stroke-width="1.25"/>
<text x="211.80" y="447.70" font-size="9.8" font-weight="bold" text-anchor="end" fill="#111" >SOX4</text>
<line x1="273.50" y1="440.50" x2="276.90" y2="440.50" stroke="#111" stroke-width="1" />
<text x="280.00" y="441.20" font-size="6.4"  text-anchor="start" fill="#222" textLength="18.4" lengthAdjust="spacingAndGlyphs" stroke="#222" stroke-width="0.25">52 kDa</text>
<line x1="273.50" y1="450.50" x2="276.90" y2="450.50" stroke="#111" stroke-width="1" />
<text x="280.00" y="452.60" font-size="6.4"  text-anchor="start" fill="#222" textLength="18.4" lengthAdjust="spacingAndGlyphs" stroke="#222" stroke-width="0.25">37 kDa</text>
<clipPath id="clipf1"><rect x="213.60" y="461.90" width="59.40" height="24.60"/></clipPath>
<rect x="213.10" y="461.40" width="60.40" height="25.60" fill="#e4e4e4" />
<g clip-path="url(#clipf1)">
<ellipse cx="223.5" cy="473" rx="4.5" ry="2.6" fill="#000" opacity="1" filter="url(#g9)"/>
<ellipse cx="231.5" cy="473.8" rx="5.5" ry="2.4" fill="#050505" opacity="1" filter="url(#g9)"/>
<rect x="248.2" y="472.70" width="19.00" height="2.6" rx="1.30" fill="#8a8a8a" opacity="1" filter="url(#g10)"/>
<ellipse cx="251.5" cy="474" rx="3" ry="1.8" fill="#6a6a6a" opacity="1" filter="url(#g9)"/>
<ellipse cx="262.5" cy="473.8" rx="3.5" ry="1.8" fill="#6a6a6a" opacity="1" filter="url(#g9)"/>
</g>
<rect x="213.10" y="461.40" width="60.40" height="25.6" fill="none" stroke="#222" stroke-width="1.25"/>
<text x="211.80" y="476.80" font-size="9.8" font-weight="bold" text-anchor="end" fill="#111" >p-Akt</text>
<line x1="273.50" y1="473.50" x2="276.90" y2="473.50" stroke="#111" stroke-width="1" />
<text x="280.00" y="476.10" font-size="6.4"  text-anchor="start" fill="#222" textLength="18.4" lengthAdjust="spacingAndGlyphs" stroke="#222" stroke-width="0.25">60 kDa</text>
<clipPath id="clipf2"><rect x="213.60" y="491.70" width="59.40" height="24.60"/></clipPath>
<rect x="213.10" y="491.20" width="60.40" height="25.60" fill="#dcdcdc" />
<g clip-path="url(#clipf2)">
<rect x="220" y="502.50" width="18.00" height="7" rx="3.00" fill="#c0c0c0" opacity="1" filter="url(#g18)"/>
<rect x="245.7" y="502.50" width="19.00" height="7" rx="3.00" fill="#c0c0c0" opacity="1" filter="url(#g18)"/>
<rect x="220.1" y="498.80" width="18.00" height="4.8" rx="2.40" fill="#4a4a4a" opacity="1" filter="url(#g11)"/>
<rect x="245.7" y="498.80" width="19.00" height="4.8" rx="2.40" fill="#444" opacity="1" filter="url(#g11)"/>
</g>
<rect x="213.10" y="491.20" width="60.40" height="25.6" fill="none" stroke="#222" stroke-width="1.25"/>
<text x="211.80" y="506.60" font-size="9.8" font-weight="bold" text-anchor="end" fill="#111" >Total Akt</text>
<line x1="273.50" y1="503.50" x2="276.90" y2="503.50" stroke="#111" stroke-width="1" />
<text x="280.00" y="505.90" font-size="6.4"  text-anchor="start" fill="#222" textLength="18.4" lengthAdjust="spacingAndGlyphs" stroke="#222" stroke-width="0.25">60 kDa</text>
<clipPath id="clipf3"><rect x="213.60" y="520.80" width="59.40" height="24.60"/></clipPath>
<rect x="213.10" y="520.30" width="60.40" height="25.60" fill="#e0e0e0" />
<g clip-path="url(#clipf3)">
<rect x="243" y="520.3" width="3.5" height="26" fill="#ebebeb" filter="url(#g12)"/>
<rect x="213" y="520.3" width="7" height="26" fill="#efefef" filter="url(#g15)"/>
<ellipse cx="232" cy="532" rx="10" ry="7" fill="#c0c0c0" opacity="1" filter="url(#g20)"/>
<rect x="223" y="526.70" width="17.70" height="2.8" rx="1.40" fill="#888" opacity="1" filter="url(#g9)"/>
<rect x="223" y="533.10" width="18.30" height="5.2" rx="2.60" fill="#000" opacity="1" filter="url(#g10)"/>
<ellipse cx="257.7" cy="532" rx="10" ry="7" fill="#c8c8c8" opacity="1" filter="url(#g20)"/>
<rect x="249" y="526.90" width="16.00" height="2.2" rx="1.10" fill="#aaa" opacity="1" filter="url(#g9)"/>
<rect x="248.9" y="533.40" width="17.70" height="4.6" rx="2.30" fill="#1e1e1e" opacity="1" filter="url(#g10)"/>
<ellipse cx="251" cy="535.7" rx="2.3" ry="2.4" fill="#111" opacity="1" filter="url(#g8)"/>
<ellipse cx="264" cy="535.5" rx="2.3" ry="2.4" fill="#111" opacity="1" filter="url(#g8)"/>
</g>
<rect x="213.10" y="520.30" width="60.40" height="25.6" fill="none" stroke="#222" stroke-width="1.25"/>
<text x="211.80" y="535.70" font-size="9.8" font-weight="bold" text-anchor="end" fill="#111" >p-P70S6K</text>
<line x1="273.50" y1="536.50" x2="276.90" y2="536.50" stroke="#111" stroke-width="1" />
<text x="280.00" y="538.90" font-size="6.4"  text-anchor="start" fill="#222" textLength="18.4" lengthAdjust="spacingAndGlyphs" stroke="#222" stroke-width="0.25">70 kDa</text>
<clipPath id="clipf4"><rect x="213.60" y="550.70" width="59.40" height="24.60"/></clipPath>
<rect x="213.10" y="550.20" width="60.40" height="25.60" fill="#dcdcdc" />
<g clip-path="url(#clipf4)">
<rect x="219.8" y="556.60" width="18.30" height="1.8" rx="0.90" fill="#8a8a8a" opacity="1" filter="url(#g8)"/>
<rect x="219.2" y="563.60" width="19.60" height="4.2" rx="2.10" fill="#0a0a0a" opacity="1" filter="url(#g9)"/>
<rect x="255" y="556.70" width="9.00" height="1.6" rx="0.80" fill="#aaa" opacity="1" filter="url(#g8)"/>
<rect x="247" y="563.40" width="18.30" height="4.6" rx="2.30" fill="#000" opacity="1" filter="url(#g9)"/>
</g>
<rect x="213.10" y="550.20" width="60.40" height="25.6" fill="none" stroke="#222" stroke-width="1.25"/>
<text x="211.80" y="565.60" font-size="9.8" font-weight="bold" text-anchor="end" fill="#111" >P70S6K</text>
<line x1="273.50" y1="566.50" x2="276.90" y2="566.50" stroke="#111" stroke-width="1" />
<text x="280.00" y="568.80" font-size="6.4"  text-anchor="start" fill="#222" textLength="18.4" lengthAdjust="spacingAndGlyphs" stroke="#222" stroke-width="0.25">70 kDa</text>
<clipPath id="clipf5"><rect x="213.60" y="579.70" width="59.40" height="24.60"/></clipPath>
<rect x="213.10" y="579.20" width="60.40" height="25.60" fill="#dadada" />
<g clip-path="url(#clipf5)">
<rect x="219.8" y="586.50" width="19.00" height="11" rx="3.00" fill="#a8a8a8" opacity="1" filter="url(#g18)"/>
<rect x="219.8" y="587.90" width="19.00" height="3.4" rx="1.70" fill="#444" opacity="1" filter="url(#g12)"/>
<rect x="219.8" y="592.50" width="19.00" height="3.4" rx="1.70" fill="#3a3a3a" opacity="1" filter="url(#g12)"/>
<rect x="247.6" y="587.00" width="19.00" height="10" rx="3.00" fill="#c0c0c0" opacity="1" filter="url(#g18)"/>
<rect x="247.6" y="588.30" width="19.00" height="3.0" rx="1.50" fill="#8a8a8a" opacity="1" filter="url(#g12)"/>
<rect x="247.6" y="592.70" width="19.00" height="3.0" rx="1.50" fill="#828282" opacity="1" filter="url(#g12)"/>
</g>
<rect x="213.10" y="579.20" width="60.40" height="25.6" fill="none" stroke="#222" stroke-width="1.25"/>
<text x="211.80" y="594.60" font-size="9.8" font-weight="bold" text-anchor="end" fill="#111" >p-4EBP1</text>
<line x1="273.50" y1="586.50" x2="276.90" y2="586.50" stroke="#111" stroke-width="1" />
<text x="280.00" y="588.30" font-size="6.4"  text-anchor="start" fill="#222" textLength="18.4" lengthAdjust="spacingAndGlyphs" stroke="#222" stroke-width="0.25">25 kDa</text>
<line x1="273.50" y1="597.50" x2="276.90" y2="597.50" stroke="#111" stroke-width="1" />
<text x="280.00" y="600.10" font-size="6.4"  text-anchor="start" fill="#222" textLength="18.4" lengthAdjust="spacingAndGlyphs" stroke="#222" stroke-width="0.25">15 kDa</text>
<clipPath id="clipf6"><rect x="213.60" y="608.70" width="59.40" height="24.60"/></clipPath>
<rect x="213.10" y="608.20" width="60.40" height="25.60" fill="#e6e6e6" />
<g clip-path="url(#clipf6)">
<rect x="222.6" y="615.50" width="17.40" height="11" rx="3.00" fill="#a0a0a0" opacity="1" filter="url(#g18)"/>
<rect x="247" y="615.50" width="18.90" height="11" rx="3.00" fill="#a0a0a0" opacity="1" filter="url(#g18)"/>
<rect x="222.6" y="616.80" width="17.40" height="3.6" rx="1.80" fill="#383838" opacity="1" filter="url(#g12)"/>
<rect x="222.6" y="620.90" width="17.40" height="3.8" rx="1.90" fill="#2e2e2e" opacity="1" filter="url(#g12)"/>
<rect x="247" y="616.80" width="18.90" height="3.6" rx="1.80" fill="#383838" opacity="1" filter="url(#g12)"/>
<rect x="247" y="620.90" width="18.90" height="3.8" rx="1.90" fill="#2e2e2e" opacity="1" filter="url(#g12)"/>
</g>
<rect x="213.10" y="608.20" width="60.40" height="25.6" fill="none" stroke="#222" stroke-width="1.25"/>
<text x="211.80" y="623.60" font-size="9.8" font-weight="bold" text-anchor="end" fill="#111" >4EBP1</text>
<line x1="273.50" y1="615.50" x2="276.90" y2="615.50" stroke="#111" stroke-width="1" />
<text x="280.00" y="617.30" font-size="6.4"  text-anchor="start" fill="#222" textLength="18.4" lengthAdjust="spacingAndGlyphs" stroke="#222" stroke-width="0.25">25 kDa</text>
<line x1="273.50" y1="626.50" x2="276.90" y2="626.50" stroke="#111" stroke-width="1" />
<text x="280.00" y="628.70" font-size="6.4"  text-anchor="start" fill="#222" textLength="18.4" lengthAdjust="spacingAndGlyphs" stroke="#222" stroke-width="0.25">15 kDa</text>
<clipPath id="clipf7"><rect x="213.60" y="638.00" width="59.40" height="24.60"/></clipPath>
<rect x="213.10" y="637.50" width="60.40" height="25.60" fill="#eaeaea" />
<g clip-path="url(#clipf7)">
<path d="M222.3,649.5 Q223,647.8 226,647.9 L237.5,647.9 Q240.8,647.3 242.3,645.3 L242.6,652 Q241.5,654.3 236,654.3 L226,654.3 Q222.3,654.3 222.3,651.5 Z" fill="#000" filter="url(#g9)"/>
<path d="M247,649.5 Q247.8,647.9 251,647.9 L259,647.6 Q263,646.6 265.8,643.2 L267,643.8 L265.6,651 Q264,654 259,654 L251,654 Q247,654 247,651.5 Z" fill="#000" filter="url(#g9)"/>
<ellipse cx="267" cy="643" rx="2" ry="1.2" fill="#555" opacity="1" filter="url(#g10)"/>
</g>
<rect x="213.10" y="637.50" width="60.40" height="25.6" fill="none" stroke="#222" stroke-width="1.25"/>
<text x="211.80" y="652.90" font-size="9.8" font-weight="bold" text-anchor="end" fill="#111" >&#946;-actin</text>
<line x1="273.50" y1="650.50" x2="276.90" y2="650.50" stroke="#111" stroke-width="1" />
<text x="280.00" y="652.50" font-size="6.4"  text-anchor="start" fill="#222" textLength="18.4" lengthAdjust="spacingAndGlyphs" stroke="#222" stroke-width="0.25">42 kDa</text>
<text x="243.80" y="685.10" font-size="11.2" font-weight="bold" text-anchor="middle" fill="#111" >HCC1954</text>
<defs><filter id="g12" x="-50%" y="-100%" width="200%" height="300%"><feGaussianBlur stdDeviation="1.2"/></filter><filter id="g16" x="-50%" y="-100%" width="200%" height="300%"><feGaussianBlur stdDeviation="1.6"/></filter><filter id="g9" x="-50%" y="-100%" width="200%" height="300%"><feGaussianBlur stdDeviation="0.9"/></filter><filter id="g8" x="-50%" y="-100%" width="200%" height="300%"><feGaussianBlur stdDeviation="0.8"/></filter><filter id="g7" x="-50%" y="-100%" width="200%" height="300%"><feGaussianBlur stdDeviation="0.7"/></filter><filter id="g20" x="-50%" y="-100%" width="200%" height="300%"><feGaussianBlur stdDeviation="2"/></filter><filter id="g25" x="-50%" y="-100%" width="200%" height="300%"><feGaussianBlur stdDeviation="2.5"/></filter><filter id="g6" x="-50%" y="-100%" width="200%" height="300%"><feGaussianBlur stdDeviation="0.6"/></filter><filter id="g18" x="-50%" y="-100%" width="200%" height="300%"><feGaussianBlur stdDeviation="1.8"/></filter><filter id="g10" x="-50%" y="-100%" width="200%" height="300%"><feGaussianBlur stdDeviation="1.0"/></filter><filter id="g13" x="-50%" y="-100%" width="200%" height="300%"><feGaussianBlur stdDeviation="1.3"/></filter><filter id="g15" x="-50%" y="-100%" width="200%" height="300%"><feGaussianBlur stdDeviation="1.5"/></filter><filter id="g11" x="-50%" y="-100%" width="200%" height="300%"><feGaussianBlur stdDeviation="1.1"/></filter></defs>
</svg></body></html>
